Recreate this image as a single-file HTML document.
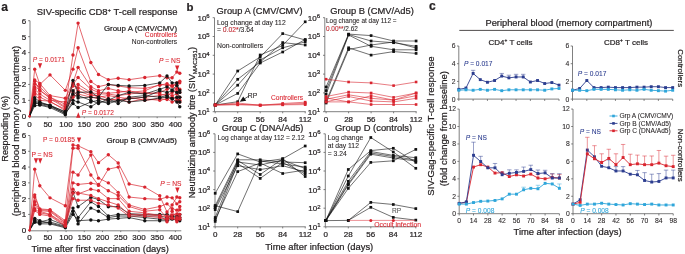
<!DOCTYPE html>
<html><head><meta charset="utf-8"><style>
html,body{margin:0;padding:0;background:#fff;width:685px;height:254px;overflow:hidden}
svg{display:block;font-family:"Liberation Sans", sans-serif;will-change:transform}
text{paint-order:stroke}
</style></head><body>
<svg width="685" height="254" viewBox="0 0 685 254">
<rect width="685" height="254" fill="#fff"/>
<text x="1.20" y="11.30" font-size="12" fill="#231f20" stroke="#231f20" stroke-width="0.22" text-anchor="start" font-weight="bold" >a</text>
<text x="186.40" y="10.80" font-size="11.4" fill="#231f20" stroke="#231f20" stroke-width="0.22" text-anchor="start" font-weight="bold" >b</text>
<text x="429.00" y="10.30" font-size="12" fill="#231f20" stroke="#231f20" stroke-width="0.22" text-anchor="start" font-weight="bold" >c</text>
<line x1="30.00" y1="20.72" x2="30.00" y2="116.30" stroke="#606060" stroke-width="0.8"/>
<line x1="28.10" y1="116.30" x2="30.00" y2="116.30" stroke="#606060" stroke-width="0.8"/>
<text x="26.10" y="119.20" font-size="8" fill="#231f20" stroke="#231f20" stroke-width="0.22" text-anchor="end" font-weight="normal" >0</text>
<line x1="28.10" y1="100.37" x2="30.00" y2="100.37" stroke="#606060" stroke-width="0.8"/>
<text x="26.10" y="103.27" font-size="8" fill="#231f20" stroke="#231f20" stroke-width="0.22" text-anchor="end" font-weight="normal" >1</text>
<line x1="28.10" y1="84.44" x2="30.00" y2="84.44" stroke="#606060" stroke-width="0.8"/>
<text x="26.10" y="87.34" font-size="8" fill="#231f20" stroke="#231f20" stroke-width="0.22" text-anchor="end" font-weight="normal" >2</text>
<line x1="28.10" y1="68.51" x2="30.00" y2="68.51" stroke="#606060" stroke-width="0.8"/>
<text x="26.10" y="71.41" font-size="8" fill="#231f20" stroke="#231f20" stroke-width="0.22" text-anchor="end" font-weight="normal" >3</text>
<line x1="28.10" y1="52.58" x2="30.00" y2="52.58" stroke="#606060" stroke-width="0.8"/>
<text x="26.10" y="55.48" font-size="8" fill="#231f20" stroke="#231f20" stroke-width="0.22" text-anchor="end" font-weight="normal" >4</text>
<line x1="28.10" y1="36.65" x2="30.00" y2="36.65" stroke="#606060" stroke-width="0.8"/>
<text x="26.10" y="39.55" font-size="8" fill="#231f20" stroke="#231f20" stroke-width="0.22" text-anchor="end" font-weight="normal" >5</text>
<line x1="28.10" y1="20.72" x2="30.00" y2="20.72" stroke="#606060" stroke-width="0.8"/>
<text x="26.10" y="23.62" font-size="8" fill="#231f20" stroke="#231f20" stroke-width="0.22" text-anchor="end" font-weight="normal" >6</text>
<line x1="29.60" y1="116.90" x2="181.30" y2="116.90" stroke="#606060" stroke-width="0.8"/>
<line x1="29.60" y1="116.90" x2="29.60" y2="118.20" stroke="#606060" stroke-width="0.8"/>
<text x="29.60" y="126.50" font-size="8" fill="#231f20" stroke="#231f20" stroke-width="0.22" text-anchor="middle" font-weight="normal" >0</text>
<line x1="47.83" y1="116.90" x2="47.83" y2="118.20" stroke="#606060" stroke-width="0.8"/>
<text x="47.83" y="126.50" font-size="8" fill="#231f20" stroke="#231f20" stroke-width="0.22" text-anchor="middle" font-weight="normal" >50</text>
<line x1="66.05" y1="116.90" x2="66.05" y2="118.20" stroke="#606060" stroke-width="0.8"/>
<text x="66.05" y="126.50" font-size="8" fill="#231f20" stroke="#231f20" stroke-width="0.22" text-anchor="middle" font-weight="normal" >100</text>
<line x1="84.28" y1="116.90" x2="84.28" y2="118.20" stroke="#606060" stroke-width="0.8"/>
<text x="84.28" y="126.50" font-size="8" fill="#231f20" stroke="#231f20" stroke-width="0.22" text-anchor="middle" font-weight="normal" >150</text>
<line x1="102.50" y1="116.90" x2="102.50" y2="118.20" stroke="#606060" stroke-width="0.8"/>
<text x="102.50" y="126.50" font-size="8" fill="#231f20" stroke="#231f20" stroke-width="0.22" text-anchor="middle" font-weight="normal" >200</text>
<line x1="120.72" y1="116.90" x2="120.72" y2="118.20" stroke="#606060" stroke-width="0.8"/>
<text x="120.72" y="126.50" font-size="8" fill="#231f20" stroke="#231f20" stroke-width="0.22" text-anchor="middle" font-weight="normal" >250</text>
<line x1="138.95" y1="116.90" x2="138.95" y2="118.20" stroke="#606060" stroke-width="0.8"/>
<text x="138.95" y="126.50" font-size="8" fill="#231f20" stroke="#231f20" stroke-width="0.22" text-anchor="middle" font-weight="normal" >300</text>
<line x1="157.17" y1="116.90" x2="157.17" y2="118.20" stroke="#606060" stroke-width="0.8"/>
<text x="157.17" y="126.50" font-size="8" fill="#231f20" stroke="#231f20" stroke-width="0.22" text-anchor="middle" font-weight="normal" >350</text>
<line x1="175.40" y1="116.90" x2="175.40" y2="118.20" stroke="#606060" stroke-width="0.8"/>
<text x="175.40" y="126.50" font-size="8" fill="#231f20" stroke="#231f20" stroke-width="0.22" text-anchor="middle" font-weight="normal" >400</text>
<line x1="30.00" y1="135.52" x2="30.00" y2="230.20" stroke="#606060" stroke-width="0.8"/>
<line x1="28.10" y1="230.20" x2="30.00" y2="230.20" stroke="#606060" stroke-width="0.8"/>
<text x="26.10" y="233.10" font-size="8" fill="#231f20" stroke="#231f20" stroke-width="0.22" text-anchor="end" font-weight="normal" >0</text>
<line x1="28.10" y1="214.42" x2="30.00" y2="214.42" stroke="#606060" stroke-width="0.8"/>
<text x="26.10" y="217.32" font-size="8" fill="#231f20" stroke="#231f20" stroke-width="0.22" text-anchor="end" font-weight="normal" >1</text>
<line x1="28.10" y1="198.64" x2="30.00" y2="198.64" stroke="#606060" stroke-width="0.8"/>
<text x="26.10" y="201.54" font-size="8" fill="#231f20" stroke="#231f20" stroke-width="0.22" text-anchor="end" font-weight="normal" >2</text>
<line x1="28.10" y1="182.86" x2="30.00" y2="182.86" stroke="#606060" stroke-width="0.8"/>
<text x="26.10" y="185.76" font-size="8" fill="#231f20" stroke="#231f20" stroke-width="0.22" text-anchor="end" font-weight="normal" >3</text>
<line x1="28.10" y1="167.08" x2="30.00" y2="167.08" stroke="#606060" stroke-width="0.8"/>
<text x="26.10" y="169.98" font-size="8" fill="#231f20" stroke="#231f20" stroke-width="0.22" text-anchor="end" font-weight="normal" >4</text>
<line x1="28.10" y1="151.30" x2="30.00" y2="151.30" stroke="#606060" stroke-width="0.8"/>
<text x="26.10" y="154.20" font-size="8" fill="#231f20" stroke="#231f20" stroke-width="0.22" text-anchor="end" font-weight="normal" >5</text>
<line x1="28.10" y1="135.52" x2="30.00" y2="135.52" stroke="#606060" stroke-width="0.8"/>
<text x="26.10" y="138.42" font-size="8" fill="#231f20" stroke="#231f20" stroke-width="0.22" text-anchor="end" font-weight="normal" >6</text>
<line x1="29.60" y1="230.80" x2="181.30" y2="230.80" stroke="#606060" stroke-width="0.8"/>
<line x1="29.60" y1="230.80" x2="29.60" y2="232.10" stroke="#606060" stroke-width="0.8"/>
<text x="29.60" y="240.40" font-size="8" fill="#231f20" stroke="#231f20" stroke-width="0.22" text-anchor="middle" font-weight="normal" >0</text>
<line x1="47.83" y1="230.80" x2="47.83" y2="232.10" stroke="#606060" stroke-width="0.8"/>
<text x="47.83" y="240.40" font-size="8" fill="#231f20" stroke="#231f20" stroke-width="0.22" text-anchor="middle" font-weight="normal" >50</text>
<line x1="66.05" y1="230.80" x2="66.05" y2="232.10" stroke="#606060" stroke-width="0.8"/>
<text x="66.05" y="240.40" font-size="8" fill="#231f20" stroke="#231f20" stroke-width="0.22" text-anchor="middle" font-weight="normal" >100</text>
<line x1="84.28" y1="230.80" x2="84.28" y2="232.10" stroke="#606060" stroke-width="0.8"/>
<text x="84.28" y="240.40" font-size="8" fill="#231f20" stroke="#231f20" stroke-width="0.22" text-anchor="middle" font-weight="normal" >150</text>
<line x1="102.50" y1="230.80" x2="102.50" y2="232.10" stroke="#606060" stroke-width="0.8"/>
<text x="102.50" y="240.40" font-size="8" fill="#231f20" stroke="#231f20" stroke-width="0.22" text-anchor="middle" font-weight="normal" >200</text>
<line x1="120.72" y1="230.80" x2="120.72" y2="232.10" stroke="#606060" stroke-width="0.8"/>
<text x="120.72" y="240.40" font-size="8" fill="#231f20" stroke="#231f20" stroke-width="0.22" text-anchor="middle" font-weight="normal" >250</text>
<line x1="138.95" y1="230.80" x2="138.95" y2="232.10" stroke="#606060" stroke-width="0.8"/>
<text x="138.95" y="240.40" font-size="8" fill="#231f20" stroke="#231f20" stroke-width="0.22" text-anchor="middle" font-weight="normal" >300</text>
<line x1="157.17" y1="230.80" x2="157.17" y2="232.10" stroke="#606060" stroke-width="0.8"/>
<text x="157.17" y="240.40" font-size="8" fill="#231f20" stroke="#231f20" stroke-width="0.22" text-anchor="middle" font-weight="normal" >350</text>
<line x1="175.40" y1="230.80" x2="175.40" y2="232.10" stroke="#606060" stroke-width="0.8"/>
<text x="175.40" y="240.40" font-size="8" fill="#231f20" stroke="#231f20" stroke-width="0.22" text-anchor="middle" font-weight="normal" >400</text>
<text x="36.80" y="15.00" font-size="9.45" fill="#231f20" stroke="#231f20" stroke-width="0.22" text-anchor="start" font-weight="normal" >SIV-specific CD8<tspan dy="-3" font-size="6">+</tspan><tspan dy="3"> T-cell response</tspan></text>
<text x="177.20" y="31.00" font-size="7.9" fill="#231f20" stroke="#231f20" stroke-width="0.22" text-anchor="end" font-weight="normal" >Group A (CMV/CMV)</text>
<text x="177.20" y="37.40" font-size="6.7" fill="#d9252f" stroke="#d9252f" stroke-width="0.08" text-anchor="end" font-weight="normal" >Controllers</text>
<text x="177.20" y="43.70" font-size="6.7" fill="#231f20" stroke="#231f20" stroke-width="0.08" text-anchor="end" font-weight="normal" >Non-controllers</text>
<text x="177.00" y="142.50" font-size="7.9" fill="#231f20" stroke="#231f20" stroke-width="0.22" text-anchor="end" font-weight="normal" >Group B (CMV/Ad5)</text>
<text transform="translate(8.20,128.80) rotate(-90)" font-size="9.2" fill="#231f20" stroke="#231f20" stroke-width="0.22" text-anchor="middle">Responding (%)</text>
<text transform="translate(18.90,131.00) rotate(-90)" font-size="9.55" fill="#231f20" stroke="#231f20" stroke-width="0.22" text-anchor="middle">(peripheral blood memory compartment)</text>
<text x="31.50" y="252.20" font-size="9.35" fill="#231f20" stroke="#231f20" stroke-width="0.22" text-anchor="start" font-weight="normal" >Time after first vaccination (days)</text>
<polyline points="29.60,116.30 34.70,81.25 39.81,90.81 50.01,97.18 65.32,106.74 72.98,54.97 78.08,23.11 90.84,62.46 98.49,74.56 108.33,79.66 118.17,78.23 129.11,79.66 144.78,77.43 159.73,75.68 167.02,77.75 172.12,77.75 176.86,72.01 179.77,73.29" fill="none" stroke="#d9252f" stroke-width="0.7" stroke-opacity="1" stroke-linejoin="round"/>
<circle cx="34.70" cy="81.25" r="1.7" fill="#d9252f"/>
<circle cx="39.81" cy="90.81" r="1.7" fill="#d9252f"/>
<circle cx="50.01" cy="97.18" r="1.7" fill="#d9252f"/>
<circle cx="65.32" cy="106.74" r="1.7" fill="#d9252f"/>
<circle cx="72.98" cy="54.97" r="1.7" fill="#d9252f"/>
<circle cx="78.08" cy="23.11" r="1.7" fill="#d9252f"/>
<circle cx="90.84" cy="62.46" r="1.7" fill="#d9252f"/>
<circle cx="98.49" cy="74.56" r="1.7" fill="#d9252f"/>
<circle cx="108.33" cy="79.66" r="1.7" fill="#d9252f"/>
<circle cx="118.17" cy="78.23" r="1.7" fill="#d9252f"/>
<circle cx="129.11" cy="79.66" r="1.7" fill="#d9252f"/>
<circle cx="144.78" cy="77.43" r="1.7" fill="#d9252f"/>
<circle cx="159.73" cy="75.68" r="1.7" fill="#d9252f"/>
<circle cx="167.02" cy="77.75" r="1.7" fill="#d9252f"/>
<circle cx="172.12" cy="77.75" r="1.7" fill="#d9252f"/>
<circle cx="176.86" cy="72.01" r="1.7" fill="#d9252f"/>
<circle cx="179.77" cy="73.29" r="1.7" fill="#d9252f"/>
<polyline points="29.60,116.30 34.70,69.31 39.81,84.44 50.01,74.88 65.32,90.33 72.98,69.15 78.08,47.80 90.84,81.57 98.49,86.67 108.33,84.44 118.17,86.03 129.11,87.63 144.78,88.42 159.73,85.24 167.02,83.64 172.12,86.03 176.86,82.85 179.77,81.25" fill="none" stroke="#d9252f" stroke-width="0.7" stroke-opacity="1" stroke-linejoin="round"/>
<circle cx="34.70" cy="69.31" r="1.7" fill="#d9252f"/>
<circle cx="39.81" cy="84.44" r="1.7" fill="#d9252f"/>
<circle cx="50.01" cy="74.88" r="1.7" fill="#d9252f"/>
<circle cx="65.32" cy="90.33" r="1.7" fill="#d9252f"/>
<circle cx="72.98" cy="69.15" r="1.7" fill="#d9252f"/>
<circle cx="78.08" cy="47.80" r="1.7" fill="#d9252f"/>
<circle cx="90.84" cy="81.57" r="1.7" fill="#d9252f"/>
<circle cx="98.49" cy="86.67" r="1.7" fill="#d9252f"/>
<circle cx="108.33" cy="84.44" r="1.7" fill="#d9252f"/>
<circle cx="118.17" cy="86.03" r="1.7" fill="#d9252f"/>
<circle cx="129.11" cy="87.63" r="1.7" fill="#d9252f"/>
<circle cx="144.78" cy="88.42" r="1.7" fill="#d9252f"/>
<circle cx="159.73" cy="85.24" r="1.7" fill="#d9252f"/>
<circle cx="167.02" cy="83.64" r="1.7" fill="#d9252f"/>
<circle cx="172.12" cy="86.03" r="1.7" fill="#d9252f"/>
<circle cx="176.86" cy="82.85" r="1.7" fill="#d9252f"/>
<circle cx="179.77" cy="81.25" r="1.7" fill="#d9252f"/>
<polyline points="29.60,116.30 34.70,79.98 39.81,83.48 50.01,95.59 65.32,98.30 72.98,82.85 78.08,67.39 90.84,86.67 98.49,90.81 108.33,88.42 118.17,90.81 129.11,92.41 144.78,90.81 159.73,84.44 167.02,85.24 172.12,85.56 176.86,85.08 179.77,82.85" fill="none" stroke="#d9252f" stroke-width="0.7" stroke-opacity="1" stroke-linejoin="round"/>
<circle cx="34.70" cy="79.98" r="1.7" fill="#d9252f"/>
<circle cx="39.81" cy="83.48" r="1.7" fill="#d9252f"/>
<circle cx="50.01" cy="95.59" r="1.7" fill="#d9252f"/>
<circle cx="65.32" cy="98.30" r="1.7" fill="#d9252f"/>
<circle cx="72.98" cy="82.85" r="1.7" fill="#d9252f"/>
<circle cx="78.08" cy="67.39" r="1.7" fill="#d9252f"/>
<circle cx="90.84" cy="86.67" r="1.7" fill="#d9252f"/>
<circle cx="98.49" cy="90.81" r="1.7" fill="#d9252f"/>
<circle cx="108.33" cy="88.42" r="1.7" fill="#d9252f"/>
<circle cx="118.17" cy="90.81" r="1.7" fill="#d9252f"/>
<circle cx="129.11" cy="92.41" r="1.7" fill="#d9252f"/>
<circle cx="144.78" cy="90.81" r="1.7" fill="#d9252f"/>
<circle cx="159.73" cy="84.44" r="1.7" fill="#d9252f"/>
<circle cx="167.02" cy="85.24" r="1.7" fill="#d9252f"/>
<circle cx="172.12" cy="85.56" r="1.7" fill="#d9252f"/>
<circle cx="176.86" cy="85.08" r="1.7" fill="#d9252f"/>
<circle cx="179.77" cy="82.85" r="1.7" fill="#d9252f"/>
<polyline points="29.60,116.30 34.70,83.96 39.81,86.83 50.01,97.18 65.32,104.35 72.98,84.44 78.08,77.43 90.84,89.22 98.49,92.41 108.33,93.20 118.17,92.41 129.11,90.81 144.78,94.00 159.73,92.41 167.02,89.22 172.12,86.03 176.86,91.61 179.77,89.22" fill="none" stroke="#d9252f" stroke-width="0.7" stroke-opacity="1" stroke-linejoin="round"/>
<circle cx="34.70" cy="83.96" r="1.7" fill="#d9252f"/>
<circle cx="39.81" cy="86.83" r="1.7" fill="#d9252f"/>
<circle cx="50.01" cy="97.18" r="1.7" fill="#d9252f"/>
<circle cx="65.32" cy="104.35" r="1.7" fill="#d9252f"/>
<circle cx="72.98" cy="84.44" r="1.7" fill="#d9252f"/>
<circle cx="78.08" cy="77.43" r="1.7" fill="#d9252f"/>
<circle cx="90.84" cy="89.22" r="1.7" fill="#d9252f"/>
<circle cx="98.49" cy="92.41" r="1.7" fill="#d9252f"/>
<circle cx="108.33" cy="93.20" r="1.7" fill="#d9252f"/>
<circle cx="118.17" cy="92.41" r="1.7" fill="#d9252f"/>
<circle cx="129.11" cy="90.81" r="1.7" fill="#d9252f"/>
<circle cx="144.78" cy="94.00" r="1.7" fill="#d9252f"/>
<circle cx="159.73" cy="92.41" r="1.7" fill="#d9252f"/>
<circle cx="167.02" cy="89.22" r="1.7" fill="#d9252f"/>
<circle cx="172.12" cy="86.03" r="1.7" fill="#d9252f"/>
<circle cx="176.86" cy="91.61" r="1.7" fill="#d9252f"/>
<circle cx="179.77" cy="89.22" r="1.7" fill="#d9252f"/>
<polyline points="29.60,116.30 34.70,86.99 39.81,89.70 50.01,98.78 65.32,107.70 72.98,91.93 78.08,84.44 90.84,92.41 98.49,94.00 108.33,94.00 118.17,95.59 129.11,94.00 144.78,92.41 159.73,94.00 167.02,95.59 172.12,92.41 176.86,88.42 179.77,92.41" fill="none" stroke="#d9252f" stroke-width="0.7" stroke-opacity="1" stroke-linejoin="round"/>
<circle cx="34.70" cy="86.99" r="1.7" fill="#d9252f"/>
<circle cx="39.81" cy="89.70" r="1.7" fill="#d9252f"/>
<circle cx="50.01" cy="98.78" r="1.7" fill="#d9252f"/>
<circle cx="65.32" cy="107.70" r="1.7" fill="#d9252f"/>
<circle cx="72.98" cy="91.93" r="1.7" fill="#d9252f"/>
<circle cx="78.08" cy="84.44" r="1.7" fill="#d9252f"/>
<circle cx="90.84" cy="92.41" r="1.7" fill="#d9252f"/>
<circle cx="98.49" cy="94.00" r="1.7" fill="#d9252f"/>
<circle cx="108.33" cy="94.00" r="1.7" fill="#d9252f"/>
<circle cx="118.17" cy="95.59" r="1.7" fill="#d9252f"/>
<circle cx="129.11" cy="94.00" r="1.7" fill="#d9252f"/>
<circle cx="144.78" cy="92.41" r="1.7" fill="#d9252f"/>
<circle cx="159.73" cy="94.00" r="1.7" fill="#d9252f"/>
<circle cx="167.02" cy="95.59" r="1.7" fill="#d9252f"/>
<circle cx="172.12" cy="92.41" r="1.7" fill="#d9252f"/>
<circle cx="176.86" cy="88.42" r="1.7" fill="#d9252f"/>
<circle cx="179.77" cy="92.41" r="1.7" fill="#d9252f"/>
<polyline points="29.60,116.30 34.70,89.22 39.81,94.00 50.01,100.37 65.32,101.96 72.98,86.03 78.08,87.63 90.84,94.00 98.49,97.18 108.33,95.59 118.17,97.18 129.11,98.78 144.78,97.18 159.73,95.59 167.02,93.68 172.12,95.59 176.86,94.00 179.77,97.18" fill="none" stroke="#d9252f" stroke-width="0.7" stroke-opacity="1" stroke-linejoin="round"/>
<circle cx="34.70" cy="89.22" r="1.7" fill="#d9252f"/>
<circle cx="39.81" cy="94.00" r="1.7" fill="#d9252f"/>
<circle cx="50.01" cy="100.37" r="1.7" fill="#d9252f"/>
<circle cx="65.32" cy="101.96" r="1.7" fill="#d9252f"/>
<circle cx="72.98" cy="86.03" r="1.7" fill="#d9252f"/>
<circle cx="78.08" cy="87.63" r="1.7" fill="#d9252f"/>
<circle cx="90.84" cy="94.00" r="1.7" fill="#d9252f"/>
<circle cx="98.49" cy="97.18" r="1.7" fill="#d9252f"/>
<circle cx="108.33" cy="95.59" r="1.7" fill="#d9252f"/>
<circle cx="118.17" cy="97.18" r="1.7" fill="#d9252f"/>
<circle cx="129.11" cy="98.78" r="1.7" fill="#d9252f"/>
<circle cx="144.78" cy="97.18" r="1.7" fill="#d9252f"/>
<circle cx="159.73" cy="95.59" r="1.7" fill="#d9252f"/>
<circle cx="167.02" cy="93.68" r="1.7" fill="#d9252f"/>
<circle cx="172.12" cy="95.59" r="1.7" fill="#d9252f"/>
<circle cx="176.86" cy="94.00" r="1.7" fill="#d9252f"/>
<circle cx="179.77" cy="97.18" r="1.7" fill="#d9252f"/>
<polyline points="29.60,116.30 34.70,91.93 39.81,97.18 50.01,101.96 65.32,109.13 72.98,95.59 78.08,90.81 90.84,95.59 98.49,95.59 108.33,98.78 118.17,100.37 129.11,97.18 144.78,100.37 159.73,98.78 167.02,99.57 172.12,97.18 176.86,98.78 179.77,100.37" fill="none" stroke="#d9252f" stroke-width="0.7" stroke-opacity="1" stroke-linejoin="round"/>
<circle cx="34.70" cy="91.93" r="1.7" fill="#d9252f"/>
<circle cx="39.81" cy="97.18" r="1.7" fill="#d9252f"/>
<circle cx="50.01" cy="101.96" r="1.7" fill="#d9252f"/>
<circle cx="65.32" cy="109.13" r="1.7" fill="#d9252f"/>
<circle cx="72.98" cy="95.59" r="1.7" fill="#d9252f"/>
<circle cx="78.08" cy="90.81" r="1.7" fill="#d9252f"/>
<circle cx="90.84" cy="95.59" r="1.7" fill="#d9252f"/>
<circle cx="98.49" cy="95.59" r="1.7" fill="#d9252f"/>
<circle cx="108.33" cy="98.78" r="1.7" fill="#d9252f"/>
<circle cx="118.17" cy="100.37" r="1.7" fill="#d9252f"/>
<circle cx="129.11" cy="97.18" r="1.7" fill="#d9252f"/>
<circle cx="144.78" cy="100.37" r="1.7" fill="#d9252f"/>
<circle cx="159.73" cy="98.78" r="1.7" fill="#d9252f"/>
<circle cx="167.02" cy="99.57" r="1.7" fill="#d9252f"/>
<circle cx="172.12" cy="97.18" r="1.7" fill="#d9252f"/>
<circle cx="176.86" cy="98.78" r="1.7" fill="#d9252f"/>
<circle cx="179.77" cy="100.37" r="1.7" fill="#d9252f"/>
<polyline points="29.60,116.30 34.70,94.16 39.81,100.37 50.01,101.17 65.32,110.72 72.98,97.18 78.08,94.00 90.84,97.18 98.49,98.78 108.33,100.37 118.17,98.78 129.11,101.96 144.78,98.78 159.73,100.37 167.02,98.78 172.12,101.96 176.86,100.37 179.77,101.96" fill="none" stroke="#d9252f" stroke-width="0.7" stroke-opacity="1" stroke-linejoin="round"/>
<circle cx="34.70" cy="94.16" r="1.7" fill="#d9252f"/>
<circle cx="39.81" cy="100.37" r="1.7" fill="#d9252f"/>
<circle cx="50.01" cy="101.17" r="1.7" fill="#d9252f"/>
<circle cx="65.32" cy="110.72" r="1.7" fill="#d9252f"/>
<circle cx="72.98" cy="97.18" r="1.7" fill="#d9252f"/>
<circle cx="78.08" cy="94.00" r="1.7" fill="#d9252f"/>
<circle cx="90.84" cy="97.18" r="1.7" fill="#d9252f"/>
<circle cx="98.49" cy="98.78" r="1.7" fill="#d9252f"/>
<circle cx="108.33" cy="100.37" r="1.7" fill="#d9252f"/>
<circle cx="118.17" cy="98.78" r="1.7" fill="#d9252f"/>
<circle cx="129.11" cy="101.96" r="1.7" fill="#d9252f"/>
<circle cx="144.78" cy="98.78" r="1.7" fill="#d9252f"/>
<circle cx="159.73" cy="100.37" r="1.7" fill="#d9252f"/>
<circle cx="167.02" cy="98.78" r="1.7" fill="#d9252f"/>
<circle cx="172.12" cy="101.96" r="1.7" fill="#d9252f"/>
<circle cx="176.86" cy="100.37" r="1.7" fill="#d9252f"/>
<circle cx="179.77" cy="101.96" r="1.7" fill="#d9252f"/>
<polyline points="29.60,116.30 34.70,97.66 39.81,101.96 50.01,105.63 65.32,111.52 72.98,80.46 78.08,92.41 90.84,91.93 98.49,97.18 108.33,84.44 118.17,85.40 129.11,86.03 144.78,85.40 159.73,82.85 167.02,76.00 172.12,82.85 176.86,82.85 179.77,92.41" fill="none" stroke="#111" stroke-width="0.7" stroke-opacity="1" stroke-linejoin="round"/>
<circle cx="34.70" cy="97.66" r="1.7" fill="#111"/>
<circle cx="39.81" cy="101.96" r="1.7" fill="#111"/>
<circle cx="50.01" cy="105.63" r="1.7" fill="#111"/>
<circle cx="65.32" cy="111.52" r="1.7" fill="#111"/>
<circle cx="72.98" cy="80.46" r="1.7" fill="#111"/>
<circle cx="78.08" cy="92.41" r="1.7" fill="#111"/>
<circle cx="90.84" cy="91.93" r="1.7" fill="#111"/>
<circle cx="98.49" cy="97.18" r="1.7" fill="#111"/>
<circle cx="108.33" cy="84.44" r="1.7" fill="#111"/>
<circle cx="118.17" cy="85.40" r="1.7" fill="#111"/>
<circle cx="129.11" cy="86.03" r="1.7" fill="#111"/>
<circle cx="144.78" cy="85.40" r="1.7" fill="#111"/>
<circle cx="159.73" cy="82.85" r="1.7" fill="#111"/>
<circle cx="167.02" cy="76.00" r="1.7" fill="#111"/>
<circle cx="172.12" cy="82.85" r="1.7" fill="#111"/>
<circle cx="176.86" cy="82.85" r="1.7" fill="#111"/>
<circle cx="179.77" cy="92.41" r="1.7" fill="#111"/>
<polyline points="29.60,116.30 34.70,99.89 39.81,103.56 50.01,105.63 65.32,113.91 72.98,94.00 78.08,97.98 90.84,97.18 98.49,97.98 108.33,100.37 118.17,95.59 129.11,92.41 144.78,94.00 159.73,89.22 167.02,86.83 172.12,90.02 176.86,85.40 179.77,90.81" fill="none" stroke="#111" stroke-width="0.7" stroke-opacity="1" stroke-linejoin="round"/>
<circle cx="34.70" cy="99.89" r="1.7" fill="#111"/>
<circle cx="39.81" cy="103.56" r="1.7" fill="#111"/>
<circle cx="50.01" cy="105.63" r="1.7" fill="#111"/>
<circle cx="65.32" cy="113.91" r="1.7" fill="#111"/>
<circle cx="72.98" cy="94.00" r="1.7" fill="#111"/>
<circle cx="78.08" cy="97.98" r="1.7" fill="#111"/>
<circle cx="90.84" cy="97.18" r="1.7" fill="#111"/>
<circle cx="98.49" cy="97.98" r="1.7" fill="#111"/>
<circle cx="108.33" cy="100.37" r="1.7" fill="#111"/>
<circle cx="118.17" cy="95.59" r="1.7" fill="#111"/>
<circle cx="129.11" cy="92.41" r="1.7" fill="#111"/>
<circle cx="144.78" cy="94.00" r="1.7" fill="#111"/>
<circle cx="159.73" cy="89.22" r="1.7" fill="#111"/>
<circle cx="167.02" cy="86.83" r="1.7" fill="#111"/>
<circle cx="172.12" cy="90.02" r="1.7" fill="#111"/>
<circle cx="176.86" cy="85.40" r="1.7" fill="#111"/>
<circle cx="179.77" cy="90.81" r="1.7" fill="#111"/>
<polyline points="29.60,116.30 34.70,102.12 39.81,104.35 50.01,106.74 65.32,113.11 72.98,103.56 78.08,107.54 90.84,101.96 98.49,100.37 108.33,103.56 118.17,100.69 129.11,98.78 144.78,97.18 159.73,90.81 167.02,92.41 172.12,90.81 176.86,92.41 179.77,97.18" fill="none" stroke="#111" stroke-width="0.7" stroke-opacity="1" stroke-linejoin="round"/>
<circle cx="34.70" cy="102.12" r="1.7" fill="#111"/>
<circle cx="39.81" cy="104.35" r="1.7" fill="#111"/>
<circle cx="50.01" cy="106.74" r="1.7" fill="#111"/>
<circle cx="65.32" cy="113.11" r="1.7" fill="#111"/>
<circle cx="72.98" cy="103.56" r="1.7" fill="#111"/>
<circle cx="78.08" cy="107.54" r="1.7" fill="#111"/>
<circle cx="90.84" cy="101.96" r="1.7" fill="#111"/>
<circle cx="98.49" cy="100.37" r="1.7" fill="#111"/>
<circle cx="108.33" cy="103.56" r="1.7" fill="#111"/>
<circle cx="118.17" cy="100.69" r="1.7" fill="#111"/>
<circle cx="129.11" cy="98.78" r="1.7" fill="#111"/>
<circle cx="144.78" cy="97.18" r="1.7" fill="#111"/>
<circle cx="159.73" cy="90.81" r="1.7" fill="#111"/>
<circle cx="167.02" cy="92.41" r="1.7" fill="#111"/>
<circle cx="172.12" cy="90.81" r="1.7" fill="#111"/>
<circle cx="176.86" cy="92.41" r="1.7" fill="#111"/>
<circle cx="179.77" cy="97.18" r="1.7" fill="#111"/>
<polyline points="29.60,116.30 34.70,105.63 39.81,105.15 50.01,107.54 65.32,114.71 72.98,100.37 78.08,101.96 90.84,106.74 98.49,101.96 108.33,101.96 118.17,100.37 129.11,101.96 144.78,100.37 159.73,97.98 167.02,97.18 172.12,98.78 176.86,97.18 179.77,101.96" fill="none" stroke="#111" stroke-width="0.7" stroke-opacity="1" stroke-linejoin="round"/>
<circle cx="34.70" cy="105.63" r="1.7" fill="#111"/>
<circle cx="39.81" cy="105.15" r="1.7" fill="#111"/>
<circle cx="50.01" cy="107.54" r="1.7" fill="#111"/>
<circle cx="65.32" cy="114.71" r="1.7" fill="#111"/>
<circle cx="72.98" cy="100.37" r="1.7" fill="#111"/>
<circle cx="78.08" cy="101.96" r="1.7" fill="#111"/>
<circle cx="90.84" cy="106.74" r="1.7" fill="#111"/>
<circle cx="98.49" cy="101.96" r="1.7" fill="#111"/>
<circle cx="108.33" cy="101.96" r="1.7" fill="#111"/>
<circle cx="118.17" cy="100.37" r="1.7" fill="#111"/>
<circle cx="129.11" cy="101.96" r="1.7" fill="#111"/>
<circle cx="144.78" cy="100.37" r="1.7" fill="#111"/>
<circle cx="159.73" cy="97.98" r="1.7" fill="#111"/>
<circle cx="167.02" cy="97.18" r="1.7" fill="#111"/>
<circle cx="172.12" cy="98.78" r="1.7" fill="#111"/>
<circle cx="176.86" cy="97.18" r="1.7" fill="#111"/>
<circle cx="179.77" cy="101.96" r="1.7" fill="#111"/>
<polyline points="29.60,116.30 34.70,103.56 39.81,102.76 50.01,105.15 65.32,112.32 72.98,90.81 78.08,95.59 90.84,100.37 98.49,103.56 108.33,98.78 118.17,103.56 129.11,97.18 144.78,95.59 159.73,97.18 167.02,95.59 172.12,98.78 176.86,101.96 179.77,106.74" fill="none" stroke="#111" stroke-width="0.7" stroke-opacity="1" stroke-linejoin="round"/>
<circle cx="34.70" cy="103.56" r="1.7" fill="#111"/>
<circle cx="39.81" cy="102.76" r="1.7" fill="#111"/>
<circle cx="50.01" cy="105.15" r="1.7" fill="#111"/>
<circle cx="65.32" cy="112.32" r="1.7" fill="#111"/>
<circle cx="72.98" cy="90.81" r="1.7" fill="#111"/>
<circle cx="78.08" cy="95.59" r="1.7" fill="#111"/>
<circle cx="90.84" cy="100.37" r="1.7" fill="#111"/>
<circle cx="98.49" cy="103.56" r="1.7" fill="#111"/>
<circle cx="108.33" cy="98.78" r="1.7" fill="#111"/>
<circle cx="118.17" cy="103.56" r="1.7" fill="#111"/>
<circle cx="129.11" cy="97.18" r="1.7" fill="#111"/>
<circle cx="144.78" cy="95.59" r="1.7" fill="#111"/>
<circle cx="159.73" cy="97.18" r="1.7" fill="#111"/>
<circle cx="167.02" cy="95.59" r="1.7" fill="#111"/>
<circle cx="172.12" cy="98.78" r="1.7" fill="#111"/>
<circle cx="176.86" cy="101.96" r="1.7" fill="#111"/>
<circle cx="179.77" cy="106.74" r="1.7" fill="#111"/>
<polyline points="29.60,230.20 34.70,220.10 39.81,221.99 50.01,219.47 65.32,225.47 72.98,192.33 78.08,206.69 90.84,197.38 98.49,199.43 108.33,206.69 118.17,206.53 129.11,213.63 144.78,214.42 159.73,214.42 167.02,214.42 172.12,216.00 176.86,216.00 179.77,217.58" fill="none" stroke="#111" stroke-width="0.7" stroke-opacity="1" stroke-linejoin="round"/>
<circle cx="34.70" cy="220.10" r="1.7" fill="#111"/>
<circle cx="39.81" cy="221.99" r="1.7" fill="#111"/>
<circle cx="50.01" cy="219.47" r="1.7" fill="#111"/>
<circle cx="65.32" cy="225.47" r="1.7" fill="#111"/>
<circle cx="72.98" cy="192.33" r="1.7" fill="#111"/>
<circle cx="78.08" cy="206.69" r="1.7" fill="#111"/>
<circle cx="90.84" cy="197.38" r="1.7" fill="#111"/>
<circle cx="98.49" cy="199.43" r="1.7" fill="#111"/>
<circle cx="108.33" cy="206.69" r="1.7" fill="#111"/>
<circle cx="118.17" cy="206.53" r="1.7" fill="#111"/>
<circle cx="129.11" cy="213.63" r="1.7" fill="#111"/>
<circle cx="144.78" cy="214.42" r="1.7" fill="#111"/>
<circle cx="159.73" cy="214.42" r="1.7" fill="#111"/>
<circle cx="167.02" cy="214.42" r="1.7" fill="#111"/>
<circle cx="172.12" cy="216.00" r="1.7" fill="#111"/>
<circle cx="176.86" cy="216.00" r="1.7" fill="#111"/>
<circle cx="179.77" cy="217.58" r="1.7" fill="#111"/>
<polyline points="29.60,230.20 34.70,221.52 39.81,223.10 50.01,221.99 65.32,226.25 72.98,208.11 78.08,217.58 90.84,201.80 98.49,206.53 108.33,216.00 118.17,214.42 129.11,214.42 144.78,216.00 159.73,216.00 167.02,217.58 172.12,216.00 176.86,217.58 179.77,214.42" fill="none" stroke="#111" stroke-width="0.7" stroke-opacity="1" stroke-linejoin="round"/>
<circle cx="34.70" cy="221.52" r="1.7" fill="#111"/>
<circle cx="39.81" cy="223.10" r="1.7" fill="#111"/>
<circle cx="50.01" cy="221.99" r="1.7" fill="#111"/>
<circle cx="65.32" cy="226.25" r="1.7" fill="#111"/>
<circle cx="72.98" cy="208.11" r="1.7" fill="#111"/>
<circle cx="78.08" cy="217.58" r="1.7" fill="#111"/>
<circle cx="90.84" cy="201.80" r="1.7" fill="#111"/>
<circle cx="98.49" cy="206.53" r="1.7" fill="#111"/>
<circle cx="108.33" cy="216.00" r="1.7" fill="#111"/>
<circle cx="118.17" cy="214.42" r="1.7" fill="#111"/>
<circle cx="129.11" cy="214.42" r="1.7" fill="#111"/>
<circle cx="144.78" cy="216.00" r="1.7" fill="#111"/>
<circle cx="159.73" cy="216.00" r="1.7" fill="#111"/>
<circle cx="167.02" cy="217.58" r="1.7" fill="#111"/>
<circle cx="172.12" cy="216.00" r="1.7" fill="#111"/>
<circle cx="176.86" cy="217.58" r="1.7" fill="#111"/>
<circle cx="179.77" cy="214.42" r="1.7" fill="#111"/>
<polyline points="29.60,230.20 34.70,218.36 39.81,220.73 50.01,223.10 65.32,227.04 72.98,211.26 78.08,223.89 90.84,208.11 98.49,211.26 108.33,217.58 118.17,216.00 129.11,216.00 144.78,217.58 159.73,219.15 167.02,219.15 172.12,217.58 176.86,218.36 179.77,219.15" fill="none" stroke="#111" stroke-width="0.7" stroke-opacity="1" stroke-linejoin="round"/>
<circle cx="34.70" cy="218.36" r="1.7" fill="#111"/>
<circle cx="39.81" cy="220.73" r="1.7" fill="#111"/>
<circle cx="50.01" cy="223.10" r="1.7" fill="#111"/>
<circle cx="65.32" cy="227.04" r="1.7" fill="#111"/>
<circle cx="72.98" cy="211.26" r="1.7" fill="#111"/>
<circle cx="78.08" cy="223.89" r="1.7" fill="#111"/>
<circle cx="90.84" cy="208.11" r="1.7" fill="#111"/>
<circle cx="98.49" cy="211.26" r="1.7" fill="#111"/>
<circle cx="108.33" cy="217.58" r="1.7" fill="#111"/>
<circle cx="118.17" cy="216.00" r="1.7" fill="#111"/>
<circle cx="129.11" cy="216.00" r="1.7" fill="#111"/>
<circle cx="144.78" cy="217.58" r="1.7" fill="#111"/>
<circle cx="159.73" cy="219.15" r="1.7" fill="#111"/>
<circle cx="167.02" cy="219.15" r="1.7" fill="#111"/>
<circle cx="172.12" cy="217.58" r="1.7" fill="#111"/>
<circle cx="176.86" cy="218.36" r="1.7" fill="#111"/>
<circle cx="179.77" cy="219.15" r="1.7" fill="#111"/>
<polyline points="29.60,230.20 34.70,222.31 39.81,223.89 50.01,223.89 65.32,227.83 72.98,214.42 78.08,220.73 90.84,219.94 98.49,220.73 108.33,219.15 118.17,218.36 129.11,217.58 144.78,220.73 159.73,220.73 167.02,220.73 172.12,219.15 176.86,219.94 179.77,220.73" fill="none" stroke="#111" stroke-width="0.7" stroke-opacity="1" stroke-linejoin="round"/>
<circle cx="34.70" cy="222.31" r="1.7" fill="#111"/>
<circle cx="39.81" cy="223.89" r="1.7" fill="#111"/>
<circle cx="50.01" cy="223.89" r="1.7" fill="#111"/>
<circle cx="65.32" cy="227.83" r="1.7" fill="#111"/>
<circle cx="72.98" cy="214.42" r="1.7" fill="#111"/>
<circle cx="78.08" cy="220.73" r="1.7" fill="#111"/>
<circle cx="90.84" cy="219.94" r="1.7" fill="#111"/>
<circle cx="98.49" cy="220.73" r="1.7" fill="#111"/>
<circle cx="108.33" cy="219.15" r="1.7" fill="#111"/>
<circle cx="118.17" cy="218.36" r="1.7" fill="#111"/>
<circle cx="129.11" cy="217.58" r="1.7" fill="#111"/>
<circle cx="144.78" cy="220.73" r="1.7" fill="#111"/>
<circle cx="159.73" cy="220.73" r="1.7" fill="#111"/>
<circle cx="167.02" cy="220.73" r="1.7" fill="#111"/>
<circle cx="172.12" cy="219.15" r="1.7" fill="#111"/>
<circle cx="176.86" cy="219.94" r="1.7" fill="#111"/>
<circle cx="179.77" cy="220.73" r="1.7" fill="#111"/>
<polyline points="29.60,230.20 34.70,169.13 39.81,185.70 50.01,197.85 65.32,205.74 72.98,144.99 78.08,145.78 90.84,151.77 98.49,162.66 108.33,154.77 118.17,162.98 129.11,183.96 144.78,187.12 159.73,195.80 167.02,212.05 172.12,204.95 176.86,197.06 179.77,197.69" fill="none" stroke="#d9252f" stroke-width="0.7" stroke-opacity="1" stroke-linejoin="round"/>
<circle cx="34.70" cy="169.13" r="1.7" fill="#d9252f"/>
<circle cx="39.81" cy="185.70" r="1.7" fill="#d9252f"/>
<circle cx="50.01" cy="197.85" r="1.7" fill="#d9252f"/>
<circle cx="65.32" cy="205.74" r="1.7" fill="#d9252f"/>
<circle cx="72.98" cy="144.99" r="1.7" fill="#d9252f"/>
<circle cx="78.08" cy="145.78" r="1.7" fill="#d9252f"/>
<circle cx="90.84" cy="151.77" r="1.7" fill="#d9252f"/>
<circle cx="98.49" cy="162.66" r="1.7" fill="#d9252f"/>
<circle cx="108.33" cy="154.77" r="1.7" fill="#d9252f"/>
<circle cx="118.17" cy="162.98" r="1.7" fill="#d9252f"/>
<circle cx="129.11" cy="183.96" r="1.7" fill="#d9252f"/>
<circle cx="144.78" cy="187.12" r="1.7" fill="#d9252f"/>
<circle cx="159.73" cy="195.80" r="1.7" fill="#d9252f"/>
<circle cx="167.02" cy="212.05" r="1.7" fill="#d9252f"/>
<circle cx="172.12" cy="204.95" r="1.7" fill="#d9252f"/>
<circle cx="176.86" cy="197.06" r="1.7" fill="#d9252f"/>
<circle cx="179.77" cy="197.69" r="1.7" fill="#d9252f"/>
<polyline points="29.60,230.20 34.70,194.85 39.81,208.90 50.01,209.69 65.32,220.73 72.98,148.14 78.08,148.14 90.84,174.97 98.49,185.38 108.33,169.13 118.17,167.08 129.11,197.06 144.78,198.64 159.73,199.27 167.02,197.06 172.12,197.85 176.86,203.85 179.77,201.80" fill="none" stroke="#d9252f" stroke-width="0.7" stroke-opacity="1" stroke-linejoin="round"/>
<circle cx="34.70" cy="194.85" r="1.7" fill="#d9252f"/>
<circle cx="39.81" cy="208.90" r="1.7" fill="#d9252f"/>
<circle cx="50.01" cy="209.69" r="1.7" fill="#d9252f"/>
<circle cx="65.32" cy="220.73" r="1.7" fill="#d9252f"/>
<circle cx="72.98" cy="148.14" r="1.7" fill="#d9252f"/>
<circle cx="78.08" cy="148.14" r="1.7" fill="#d9252f"/>
<circle cx="90.84" cy="174.97" r="1.7" fill="#d9252f"/>
<circle cx="98.49" cy="185.38" r="1.7" fill="#d9252f"/>
<circle cx="108.33" cy="169.13" r="1.7" fill="#d9252f"/>
<circle cx="118.17" cy="167.08" r="1.7" fill="#d9252f"/>
<circle cx="129.11" cy="197.06" r="1.7" fill="#d9252f"/>
<circle cx="144.78" cy="198.64" r="1.7" fill="#d9252f"/>
<circle cx="159.73" cy="199.27" r="1.7" fill="#d9252f"/>
<circle cx="167.02" cy="197.06" r="1.7" fill="#d9252f"/>
<circle cx="172.12" cy="197.85" r="1.7" fill="#d9252f"/>
<circle cx="176.86" cy="203.85" r="1.7" fill="#d9252f"/>
<circle cx="179.77" cy="201.80" r="1.7" fill="#d9252f"/>
<polyline points="29.60,230.20 34.70,197.06 39.81,209.69 50.01,210.47 65.32,222.31 72.98,172.13 78.08,174.97 90.84,155.09 98.49,178.13 108.33,182.86 118.17,192.33 129.11,204.95 144.78,209.53 159.73,206.53 167.02,203.85 172.12,208.58 176.86,210.16 179.77,206.53" fill="none" stroke="#d9252f" stroke-width="0.7" stroke-opacity="1" stroke-linejoin="round"/>
<circle cx="34.70" cy="197.06" r="1.7" fill="#d9252f"/>
<circle cx="39.81" cy="209.69" r="1.7" fill="#d9252f"/>
<circle cx="50.01" cy="210.47" r="1.7" fill="#d9252f"/>
<circle cx="65.32" cy="222.31" r="1.7" fill="#d9252f"/>
<circle cx="72.98" cy="172.13" r="1.7" fill="#d9252f"/>
<circle cx="78.08" cy="174.97" r="1.7" fill="#d9252f"/>
<circle cx="90.84" cy="155.09" r="1.7" fill="#d9252f"/>
<circle cx="98.49" cy="178.13" r="1.7" fill="#d9252f"/>
<circle cx="108.33" cy="182.86" r="1.7" fill="#d9252f"/>
<circle cx="118.17" cy="192.33" r="1.7" fill="#d9252f"/>
<circle cx="129.11" cy="204.95" r="1.7" fill="#d9252f"/>
<circle cx="144.78" cy="209.53" r="1.7" fill="#d9252f"/>
<circle cx="159.73" cy="206.53" r="1.7" fill="#d9252f"/>
<circle cx="167.02" cy="203.85" r="1.7" fill="#d9252f"/>
<circle cx="172.12" cy="208.58" r="1.7" fill="#d9252f"/>
<circle cx="176.86" cy="210.16" r="1.7" fill="#d9252f"/>
<circle cx="179.77" cy="206.53" r="1.7" fill="#d9252f"/>
<polyline points="29.60,230.20 34.70,201.80 39.81,210.47 50.01,211.58 65.32,223.10 72.98,182.86 78.08,184.44 90.84,183.18 98.49,184.44 108.33,190.75 118.17,195.48 129.11,206.53 144.78,211.26 159.73,209.69 167.02,218.21 172.12,214.89 176.86,213.95 179.77,209.69" fill="none" stroke="#d9252f" stroke-width="0.7" stroke-opacity="1" stroke-linejoin="round"/>
<circle cx="34.70" cy="201.80" r="1.7" fill="#d9252f"/>
<circle cx="39.81" cy="210.47" r="1.7" fill="#d9252f"/>
<circle cx="50.01" cy="211.58" r="1.7" fill="#d9252f"/>
<circle cx="65.32" cy="223.10" r="1.7" fill="#d9252f"/>
<circle cx="72.98" cy="182.86" r="1.7" fill="#d9252f"/>
<circle cx="78.08" cy="184.44" r="1.7" fill="#d9252f"/>
<circle cx="90.84" cy="183.18" r="1.7" fill="#d9252f"/>
<circle cx="98.49" cy="184.44" r="1.7" fill="#d9252f"/>
<circle cx="108.33" cy="190.75" r="1.7" fill="#d9252f"/>
<circle cx="118.17" cy="195.48" r="1.7" fill="#d9252f"/>
<circle cx="129.11" cy="206.53" r="1.7" fill="#d9252f"/>
<circle cx="144.78" cy="211.26" r="1.7" fill="#d9252f"/>
<circle cx="159.73" cy="209.69" r="1.7" fill="#d9252f"/>
<circle cx="167.02" cy="218.21" r="1.7" fill="#d9252f"/>
<circle cx="172.12" cy="214.89" r="1.7" fill="#d9252f"/>
<circle cx="176.86" cy="213.95" r="1.7" fill="#d9252f"/>
<circle cx="179.77" cy="209.69" r="1.7" fill="#d9252f"/>
<polyline points="29.60,230.20 34.70,204.64 39.81,211.26 50.01,214.42 65.32,223.89 72.98,189.17 78.08,193.91 90.84,189.17 98.49,190.75 108.33,198.64 118.17,198.64 129.11,211.26 144.78,212.84 159.73,215.52 167.02,221.68 172.12,211.26 176.86,217.58 179.77,214.42" fill="none" stroke="#d9252f" stroke-width="0.7" stroke-opacity="1" stroke-linejoin="round"/>
<circle cx="34.70" cy="204.64" r="1.7" fill="#d9252f"/>
<circle cx="39.81" cy="211.26" r="1.7" fill="#d9252f"/>
<circle cx="50.01" cy="214.42" r="1.7" fill="#d9252f"/>
<circle cx="65.32" cy="223.89" r="1.7" fill="#d9252f"/>
<circle cx="72.98" cy="189.17" r="1.7" fill="#d9252f"/>
<circle cx="78.08" cy="193.91" r="1.7" fill="#d9252f"/>
<circle cx="90.84" cy="189.17" r="1.7" fill="#d9252f"/>
<circle cx="98.49" cy="190.75" r="1.7" fill="#d9252f"/>
<circle cx="108.33" cy="198.64" r="1.7" fill="#d9252f"/>
<circle cx="118.17" cy="198.64" r="1.7" fill="#d9252f"/>
<circle cx="129.11" cy="211.26" r="1.7" fill="#d9252f"/>
<circle cx="144.78" cy="212.84" r="1.7" fill="#d9252f"/>
<circle cx="159.73" cy="215.52" r="1.7" fill="#d9252f"/>
<circle cx="167.02" cy="221.68" r="1.7" fill="#d9252f"/>
<circle cx="172.12" cy="211.26" r="1.7" fill="#d9252f"/>
<circle cx="176.86" cy="217.58" r="1.7" fill="#d9252f"/>
<circle cx="179.77" cy="214.42" r="1.7" fill="#d9252f"/>
<polyline points="29.60,230.20 34.70,208.58 39.81,212.84 50.01,214.74 65.32,225.47 72.98,192.96 78.08,192.96 90.84,195.48 98.49,198.64 108.33,201.80 118.17,204.95 129.11,214.42 144.78,214.42 159.73,216.00 167.02,216.00 172.12,217.58 176.86,221.68 179.77,217.58" fill="none" stroke="#d9252f" stroke-width="0.7" stroke-opacity="1" stroke-linejoin="round"/>
<circle cx="34.70" cy="208.58" r="1.7" fill="#d9252f"/>
<circle cx="39.81" cy="212.84" r="1.7" fill="#d9252f"/>
<circle cx="50.01" cy="214.74" r="1.7" fill="#d9252f"/>
<circle cx="65.32" cy="225.47" r="1.7" fill="#d9252f"/>
<circle cx="72.98" cy="192.96" r="1.7" fill="#d9252f"/>
<circle cx="78.08" cy="192.96" r="1.7" fill="#d9252f"/>
<circle cx="90.84" cy="195.48" r="1.7" fill="#d9252f"/>
<circle cx="98.49" cy="198.64" r="1.7" fill="#d9252f"/>
<circle cx="108.33" cy="201.80" r="1.7" fill="#d9252f"/>
<circle cx="118.17" cy="204.95" r="1.7" fill="#d9252f"/>
<circle cx="129.11" cy="214.42" r="1.7" fill="#d9252f"/>
<circle cx="144.78" cy="214.42" r="1.7" fill="#d9252f"/>
<circle cx="159.73" cy="216.00" r="1.7" fill="#d9252f"/>
<circle cx="167.02" cy="216.00" r="1.7" fill="#d9252f"/>
<circle cx="172.12" cy="217.58" r="1.7" fill="#d9252f"/>
<circle cx="176.86" cy="221.68" r="1.7" fill="#d9252f"/>
<circle cx="179.77" cy="217.58" r="1.7" fill="#d9252f"/>
<polyline points="29.60,230.20 34.70,210.47 39.81,214.42 50.01,216.00 65.32,226.25 72.98,198.64 78.08,200.22 90.84,200.22 98.49,203.37 108.33,204.95 118.17,208.11 129.11,216.00 144.78,216.00 159.73,217.58 167.02,219.15 172.12,218.36 176.86,219.15 179.77,219.15" fill="none" stroke="#d9252f" stroke-width="0.7" stroke-opacity="1" stroke-linejoin="round"/>
<circle cx="34.70" cy="210.47" r="1.7" fill="#d9252f"/>
<circle cx="39.81" cy="214.42" r="1.7" fill="#d9252f"/>
<circle cx="50.01" cy="216.00" r="1.7" fill="#d9252f"/>
<circle cx="65.32" cy="226.25" r="1.7" fill="#d9252f"/>
<circle cx="72.98" cy="198.64" r="1.7" fill="#d9252f"/>
<circle cx="78.08" cy="200.22" r="1.7" fill="#d9252f"/>
<circle cx="90.84" cy="200.22" r="1.7" fill="#d9252f"/>
<circle cx="98.49" cy="203.37" r="1.7" fill="#d9252f"/>
<circle cx="108.33" cy="204.95" r="1.7" fill="#d9252f"/>
<circle cx="118.17" cy="208.11" r="1.7" fill="#d9252f"/>
<circle cx="129.11" cy="216.00" r="1.7" fill="#d9252f"/>
<circle cx="144.78" cy="216.00" r="1.7" fill="#d9252f"/>
<circle cx="159.73" cy="217.58" r="1.7" fill="#d9252f"/>
<circle cx="167.02" cy="219.15" r="1.7" fill="#d9252f"/>
<circle cx="172.12" cy="218.36" r="1.7" fill="#d9252f"/>
<circle cx="176.86" cy="219.15" r="1.7" fill="#d9252f"/>
<circle cx="179.77" cy="219.15" r="1.7" fill="#d9252f"/>
<circle cx="29.60" cy="116.30" r="1.3" fill="#d9252f"/>
<circle cx="29.60" cy="230.20" r="1.3" fill="#d9252f"/>
<text x="32.80" y="61.80" font-size="6.6" fill="#d9252f" stroke="#d9252f" stroke-width="0.08" text-anchor="start" font-weight="normal" ><tspan font-style="italic">P</tspan> = 0.0171</text>
<path d="M37.85,63.20 L42.15,63.20 L40.00,68.80Z" fill="#d9252f"/>
<text x="81.80" y="115.00" font-size="6.6" fill="#d9252f" stroke="#d9252f" stroke-width="0.08" text-anchor="start" font-weight="normal" ><tspan font-style="italic">P</tspan> = 0.0172</text>
<path d="M76.15,117.80 L80.45,117.80 L78.30,112.20Z" fill="#d9252f"/>
<text x="159.00" y="63.40" font-size="6.7" fill="#d9252f" stroke="#d9252f" stroke-width="0.08" text-anchor="start" font-weight="normal" ><tspan font-style="italic">P</tspan> = NS</text>
<path d="M175.05,65.40 L179.35,65.40 L177.20,71.00Z" fill="#d9252f"/>
<text x="31.40" y="156.90" font-size="6.7" fill="#d9252f" stroke="#d9252f" stroke-width="0.08" text-anchor="start" font-weight="normal" >P = NS</text>
<path d="M33.85,158.20 L38.15,158.20 L36.00,163.80Z" fill="#d9252f"/>
<path d="M38.05,158.20 L42.35,158.20 L40.20,163.80Z" fill="#d9252f"/>
<text x="42.90" y="141.70" font-size="6.6" fill="#d9252f" stroke="#d9252f" stroke-width="0.08" text-anchor="start" font-weight="normal" >P = 0.0185</text>
<path d="M76.85,137.50 L81.15,137.50 L79.00,143.10Z" fill="#d9252f"/>
<text x="160.20" y="185.60" font-size="6.7" fill="#d9252f" stroke="#d9252f" stroke-width="0.08" text-anchor="start" font-weight="normal" ><tspan font-style="italic">P</tspan> = NS</text>
<path d="M175.25,187.50 L179.55,187.50 L177.40,193.10Z" fill="#d9252f"/>
<line x1="214.50" y1="17.70" x2="214.50" y2="111.70" stroke="#606060" stroke-width="0.8"/>
<line x1="212.70" y1="111.70" x2="214.50" y2="111.70" stroke="#606060" stroke-width="0.8"/>
<text x="209.70" y="114.60" font-size="8" fill="#231f20" stroke="#231f20" stroke-width="0.22" text-anchor="end" font-weight="normal" >10<tspan dy="-2.6" font-size="6">1</tspan></text>
<line x1="212.70" y1="92.90" x2="214.50" y2="92.90" stroke="#606060" stroke-width="0.8"/>
<text x="209.70" y="95.80" font-size="8" fill="#231f20" stroke="#231f20" stroke-width="0.22" text-anchor="end" font-weight="normal" >10<tspan dy="-2.6" font-size="6">2</tspan></text>
<line x1="212.70" y1="74.10" x2="214.50" y2="74.10" stroke="#606060" stroke-width="0.8"/>
<text x="209.70" y="77.00" font-size="8" fill="#231f20" stroke="#231f20" stroke-width="0.22" text-anchor="end" font-weight="normal" >10<tspan dy="-2.6" font-size="6">3</tspan></text>
<line x1="212.70" y1="55.30" x2="214.50" y2="55.30" stroke="#606060" stroke-width="0.8"/>
<text x="209.70" y="58.20" font-size="8" fill="#231f20" stroke="#231f20" stroke-width="0.22" text-anchor="end" font-weight="normal" >10<tspan dy="-2.6" font-size="6">4</tspan></text>
<line x1="212.70" y1="36.50" x2="214.50" y2="36.50" stroke="#606060" stroke-width="0.8"/>
<text x="209.70" y="39.40" font-size="8" fill="#231f20" stroke="#231f20" stroke-width="0.22" text-anchor="end" font-weight="normal" >10<tspan dy="-2.6" font-size="6">5</tspan></text>
<line x1="212.70" y1="17.70" x2="214.50" y2="17.70" stroke="#606060" stroke-width="0.8"/>
<text x="209.70" y="20.60" font-size="8" fill="#231f20" stroke="#231f20" stroke-width="0.22" text-anchor="end" font-weight="normal" >10<tspan dy="-2.6" font-size="6">6</tspan></text>
<line x1="214.50" y1="111.70" x2="305.70" y2="111.70" stroke="#606060" stroke-width="0.8"/>
<line x1="215.20" y1="111.70" x2="215.20" y2="113.30" stroke="#606060" stroke-width="0.8"/>
<text x="215.20" y="121.70" font-size="8" fill="#231f20" stroke="#231f20" stroke-width="0.22" text-anchor="middle" font-weight="normal" >0</text>
<line x1="237.70" y1="111.70" x2="237.70" y2="113.30" stroke="#606060" stroke-width="0.8"/>
<text x="237.70" y="121.70" font-size="8" fill="#231f20" stroke="#231f20" stroke-width="0.22" text-anchor="middle" font-weight="normal" >28</text>
<line x1="260.20" y1="111.70" x2="260.20" y2="113.30" stroke="#606060" stroke-width="0.8"/>
<text x="260.20" y="121.70" font-size="8" fill="#231f20" stroke="#231f20" stroke-width="0.22" text-anchor="middle" font-weight="normal" >56</text>
<line x1="282.70" y1="111.70" x2="282.70" y2="113.30" stroke="#606060" stroke-width="0.8"/>
<text x="282.70" y="121.70" font-size="8" fill="#231f20" stroke="#231f20" stroke-width="0.22" text-anchor="middle" font-weight="normal" >84</text>
<line x1="305.20" y1="111.70" x2="305.20" y2="113.30" stroke="#606060" stroke-width="0.8"/>
<text x="305.20" y="121.70" font-size="8" fill="#231f20" stroke="#231f20" stroke-width="0.22" text-anchor="middle" font-weight="normal" >112</text>
<line x1="324.80" y1="17.70" x2="324.80" y2="111.70" stroke="#606060" stroke-width="0.8"/>
<line x1="323.00" y1="111.70" x2="324.80" y2="111.70" stroke="#606060" stroke-width="0.8"/>
<text x="320.00" y="114.60" font-size="8" fill="#231f20" stroke="#231f20" stroke-width="0.22" text-anchor="end" font-weight="normal" >10<tspan dy="-2.6" font-size="6">1</tspan></text>
<line x1="323.00" y1="92.90" x2="324.80" y2="92.90" stroke="#606060" stroke-width="0.8"/>
<text x="320.00" y="95.80" font-size="8" fill="#231f20" stroke="#231f20" stroke-width="0.22" text-anchor="end" font-weight="normal" >10<tspan dy="-2.6" font-size="6">2</tspan></text>
<line x1="323.00" y1="74.10" x2="324.80" y2="74.10" stroke="#606060" stroke-width="0.8"/>
<text x="320.00" y="77.00" font-size="8" fill="#231f20" stroke="#231f20" stroke-width="0.22" text-anchor="end" font-weight="normal" >10<tspan dy="-2.6" font-size="6">3</tspan></text>
<line x1="323.00" y1="55.30" x2="324.80" y2="55.30" stroke="#606060" stroke-width="0.8"/>
<text x="320.00" y="58.20" font-size="8" fill="#231f20" stroke="#231f20" stroke-width="0.22" text-anchor="end" font-weight="normal" >10<tspan dy="-2.6" font-size="6">4</tspan></text>
<line x1="323.00" y1="36.50" x2="324.80" y2="36.50" stroke="#606060" stroke-width="0.8"/>
<text x="320.00" y="39.40" font-size="8" fill="#231f20" stroke="#231f20" stroke-width="0.22" text-anchor="end" font-weight="normal" >10<tspan dy="-2.6" font-size="6">5</tspan></text>
<line x1="323.00" y1="17.70" x2="324.80" y2="17.70" stroke="#606060" stroke-width="0.8"/>
<text x="320.00" y="20.60" font-size="8" fill="#231f20" stroke="#231f20" stroke-width="0.22" text-anchor="end" font-weight="normal" >10<tspan dy="-2.6" font-size="6">6</tspan></text>
<line x1="324.80" y1="111.70" x2="416.60" y2="111.70" stroke="#606060" stroke-width="0.8"/>
<line x1="326.10" y1="111.70" x2="326.10" y2="113.30" stroke="#606060" stroke-width="0.8"/>
<text x="326.10" y="121.70" font-size="8" fill="#231f20" stroke="#231f20" stroke-width="0.22" text-anchor="middle" font-weight="normal" >0</text>
<line x1="348.60" y1="111.70" x2="348.60" y2="113.30" stroke="#606060" stroke-width="0.8"/>
<text x="348.60" y="121.70" font-size="8" fill="#231f20" stroke="#231f20" stroke-width="0.22" text-anchor="middle" font-weight="normal" >28</text>
<line x1="371.10" y1="111.70" x2="371.10" y2="113.30" stroke="#606060" stroke-width="0.8"/>
<text x="371.10" y="121.70" font-size="8" fill="#231f20" stroke="#231f20" stroke-width="0.22" text-anchor="middle" font-weight="normal" >56</text>
<line x1="393.60" y1="111.70" x2="393.60" y2="113.30" stroke="#606060" stroke-width="0.8"/>
<text x="393.60" y="121.70" font-size="8" fill="#231f20" stroke="#231f20" stroke-width="0.22" text-anchor="middle" font-weight="normal" >84</text>
<line x1="416.10" y1="111.70" x2="416.10" y2="113.30" stroke="#606060" stroke-width="0.8"/>
<text x="416.10" y="121.70" font-size="8" fill="#231f20" stroke="#231f20" stroke-width="0.22" text-anchor="middle" font-weight="normal" >112</text>
<line x1="215.00" y1="133.80" x2="215.00" y2="226.80" stroke="#606060" stroke-width="0.8"/>
<line x1="213.20" y1="226.80" x2="215.00" y2="226.80" stroke="#606060" stroke-width="0.8"/>
<text x="210.20" y="229.70" font-size="8" fill="#231f20" stroke="#231f20" stroke-width="0.22" text-anchor="end" font-weight="normal" >10<tspan dy="-2.6" font-size="6">1</tspan></text>
<line x1="213.20" y1="208.20" x2="215.00" y2="208.20" stroke="#606060" stroke-width="0.8"/>
<text x="210.20" y="211.10" font-size="8" fill="#231f20" stroke="#231f20" stroke-width="0.22" text-anchor="end" font-weight="normal" >10<tspan dy="-2.6" font-size="6">2</tspan></text>
<line x1="213.20" y1="189.60" x2="215.00" y2="189.60" stroke="#606060" stroke-width="0.8"/>
<text x="210.20" y="192.50" font-size="8" fill="#231f20" stroke="#231f20" stroke-width="0.22" text-anchor="end" font-weight="normal" >10<tspan dy="-2.6" font-size="6">3</tspan></text>
<line x1="213.20" y1="171.00" x2="215.00" y2="171.00" stroke="#606060" stroke-width="0.8"/>
<text x="210.20" y="173.90" font-size="8" fill="#231f20" stroke="#231f20" stroke-width="0.22" text-anchor="end" font-weight="normal" >10<tspan dy="-2.6" font-size="6">4</tspan></text>
<line x1="213.20" y1="152.40" x2="215.00" y2="152.40" stroke="#606060" stroke-width="0.8"/>
<text x="210.20" y="155.30" font-size="8" fill="#231f20" stroke="#231f20" stroke-width="0.22" text-anchor="end" font-weight="normal" >10<tspan dy="-2.6" font-size="6">5</tspan></text>
<line x1="213.20" y1="133.80" x2="215.00" y2="133.80" stroke="#606060" stroke-width="0.8"/>
<text x="210.20" y="136.70" font-size="8" fill="#231f20" stroke="#231f20" stroke-width="0.22" text-anchor="end" font-weight="normal" >10<tspan dy="-2.6" font-size="6">6</tspan></text>
<line x1="215.00" y1="226.80" x2="305.70" y2="226.80" stroke="#606060" stroke-width="0.8"/>
<line x1="215.20" y1="226.80" x2="215.20" y2="228.40" stroke="#606060" stroke-width="0.8"/>
<text x="215.20" y="236.80" font-size="8" fill="#231f20" stroke="#231f20" stroke-width="0.22" text-anchor="middle" font-weight="normal" >0</text>
<line x1="237.70" y1="226.80" x2="237.70" y2="228.40" stroke="#606060" stroke-width="0.8"/>
<text x="237.70" y="236.80" font-size="8" fill="#231f20" stroke="#231f20" stroke-width="0.22" text-anchor="middle" font-weight="normal" >28</text>
<line x1="260.20" y1="226.80" x2="260.20" y2="228.40" stroke="#606060" stroke-width="0.8"/>
<text x="260.20" y="236.80" font-size="8" fill="#231f20" stroke="#231f20" stroke-width="0.22" text-anchor="middle" font-weight="normal" >56</text>
<line x1="282.70" y1="226.80" x2="282.70" y2="228.40" stroke="#606060" stroke-width="0.8"/>
<text x="282.70" y="236.80" font-size="8" fill="#231f20" stroke="#231f20" stroke-width="0.22" text-anchor="middle" font-weight="normal" >84</text>
<line x1="305.20" y1="226.80" x2="305.20" y2="228.40" stroke="#606060" stroke-width="0.8"/>
<text x="305.20" y="236.80" font-size="8" fill="#231f20" stroke="#231f20" stroke-width="0.22" text-anchor="middle" font-weight="normal" >112</text>
<line x1="325.30" y1="133.80" x2="325.30" y2="226.80" stroke="#606060" stroke-width="0.8"/>
<line x1="323.50" y1="226.80" x2="325.30" y2="226.80" stroke="#606060" stroke-width="0.8"/>
<text x="320.50" y="229.70" font-size="8" fill="#231f20" stroke="#231f20" stroke-width="0.22" text-anchor="end" font-weight="normal" >10<tspan dy="-2.6" font-size="6">1</tspan></text>
<line x1="323.50" y1="208.20" x2="325.30" y2="208.20" stroke="#606060" stroke-width="0.8"/>
<text x="320.50" y="211.10" font-size="8" fill="#231f20" stroke="#231f20" stroke-width="0.22" text-anchor="end" font-weight="normal" >10<tspan dy="-2.6" font-size="6">2</tspan></text>
<line x1="323.50" y1="189.60" x2="325.30" y2="189.60" stroke="#606060" stroke-width="0.8"/>
<text x="320.50" y="192.50" font-size="8" fill="#231f20" stroke="#231f20" stroke-width="0.22" text-anchor="end" font-weight="normal" >10<tspan dy="-2.6" font-size="6">3</tspan></text>
<line x1="323.50" y1="171.00" x2="325.30" y2="171.00" stroke="#606060" stroke-width="0.8"/>
<text x="320.50" y="173.90" font-size="8" fill="#231f20" stroke="#231f20" stroke-width="0.22" text-anchor="end" font-weight="normal" >10<tspan dy="-2.6" font-size="6">4</tspan></text>
<line x1="323.50" y1="152.40" x2="325.30" y2="152.40" stroke="#606060" stroke-width="0.8"/>
<text x="320.50" y="155.30" font-size="8" fill="#231f20" stroke="#231f20" stroke-width="0.22" text-anchor="end" font-weight="normal" >10<tspan dy="-2.6" font-size="6">5</tspan></text>
<line x1="323.50" y1="133.80" x2="325.30" y2="133.80" stroke="#606060" stroke-width="0.8"/>
<text x="320.50" y="136.70" font-size="8" fill="#231f20" stroke="#231f20" stroke-width="0.22" text-anchor="end" font-weight="normal" >10<tspan dy="-2.6" font-size="6">6</tspan></text>
<line x1="325.30" y1="226.80" x2="416.30" y2="226.80" stroke="#606060" stroke-width="0.8"/>
<line x1="325.80" y1="226.80" x2="325.80" y2="228.40" stroke="#606060" stroke-width="0.8"/>
<text x="325.80" y="236.80" font-size="8" fill="#231f20" stroke="#231f20" stroke-width="0.22" text-anchor="middle" font-weight="normal" >0</text>
<line x1="348.30" y1="226.80" x2="348.30" y2="228.40" stroke="#606060" stroke-width="0.8"/>
<text x="348.30" y="236.80" font-size="8" fill="#231f20" stroke="#231f20" stroke-width="0.22" text-anchor="middle" font-weight="normal" >28</text>
<line x1="370.80" y1="226.80" x2="370.80" y2="228.40" stroke="#606060" stroke-width="0.8"/>
<text x="370.80" y="236.80" font-size="8" fill="#231f20" stroke="#231f20" stroke-width="0.22" text-anchor="middle" font-weight="normal" >56</text>
<line x1="393.30" y1="226.80" x2="393.30" y2="228.40" stroke="#606060" stroke-width="0.8"/>
<text x="393.30" y="236.80" font-size="8" fill="#231f20" stroke="#231f20" stroke-width="0.22" text-anchor="middle" font-weight="normal" >84</text>
<line x1="415.80" y1="226.80" x2="415.80" y2="228.40" stroke="#606060" stroke-width="0.8"/>
<text x="415.80" y="236.80" font-size="8" fill="#231f20" stroke="#231f20" stroke-width="0.22" text-anchor="middle" font-weight="normal" >112</text>
<text x="216.60" y="14.00" font-size="9.27" fill="#231f20" stroke="#231f20" stroke-width="0.22" text-anchor="start" font-weight="normal" >Group A (CMV/CMV)</text>
<text x="330.20" y="14.20" font-size="9.35" fill="#231f20" stroke="#231f20" stroke-width="0.22" text-anchor="start" font-weight="normal" >Group B (CMV/Ad5)</text>
<text x="262.60" y="130.60" font-size="9.2" fill="#231f20" stroke="#231f20" stroke-width="0.22" text-anchor="middle" font-weight="normal" >Group C (DNA/Ad5)</text>
<text x="373.60" y="130.60" font-size="9.4" fill="#231f20" stroke="#231f20" stroke-width="0.22" text-anchor="middle" font-weight="normal" >Group D (controls)</text>
<text x="217.00" y="25.20" font-size="6.8" fill="#231f20" stroke="#231f20" stroke-width="0.08" text-anchor="start" font-weight="normal" >Log change at day 112</text>
<text x="217.00" y="32.30" font-size="6.8" fill="#231f20" stroke="#231f20" stroke-width="0.08" text-anchor="start" font-weight="normal" >= <tspan fill="#d9252f">0.02*</tspan>/3.64</text>
<text x="217.00" y="48.40" font-size="6.8" fill="#231f20" stroke="#231f20" stroke-width="0.08" text-anchor="start" font-weight="normal" >Non-controllers</text>
<text x="303.00" y="100.00" font-size="6.6" fill="#d9252f" stroke="#d9252f" stroke-width="0.08" text-anchor="end" font-weight="normal" >Controllers</text>
<text x="326.00" y="22.70" font-size="6.45" fill="#231f20" stroke="#231f20" stroke-width="0.08" text-anchor="start" font-weight="normal" >Log change at day 112 =</text>
<text x="326.00" y="30.60" font-size="6.45" fill="#231f20" stroke="#231f20" stroke-width="0.08" text-anchor="start" font-weight="normal" ><tspan fill="#d9252f">0.00**</tspan>/2.62</text>
<text x="217.70" y="140.00" font-size="6.6" fill="#231f20" stroke="#231f20" stroke-width="0.08" text-anchor="start" font-weight="normal" >Log change at day 112 = 2.12</text>
<text x="327.70" y="140.40" font-size="6.8" fill="#231f20" stroke="#231f20" stroke-width="0.08" text-anchor="start" font-weight="normal" >Log change</text>
<text x="327.70" y="148.10" font-size="6.8" fill="#231f20" stroke="#231f20" stroke-width="0.08" text-anchor="start" font-weight="normal" >at day 112</text>
<text x="327.70" y="155.50" font-size="6.8" fill="#231f20" stroke="#231f20" stroke-width="0.08" text-anchor="start" font-weight="normal" >= 3.24</text>
<text x="265.20" y="249.80" font-size="9.4" fill="#231f20" stroke="#231f20" stroke-width="0.22" text-anchor="start" font-weight="normal" >Time after infection (days)</text>
<text transform="translate(194.80,122.60) rotate(-90)" font-size="9.2" fill="#231f20" stroke="#231f20" stroke-width="0.22" text-anchor="middle">Neutralizing antibody titre (SIV<tspan dy="2.5" font-size="6.2">MAC251</tspan><tspan dy="-2.5">)</tspan></text>
<polyline points="215.20,105.00 237.70,71.00 260.20,57.00 282.70,33.60 305.20,40.00" fill="none" stroke="#111" stroke-width="0.6" stroke-opacity="1" stroke-linejoin="round"/>
<rect x="213.85" y="103.65" width="2.7" height="2.7" fill="#111"/>
<rect x="236.35" y="69.65" width="2.7" height="2.7" fill="#111"/>
<rect x="258.85" y="55.65" width="2.7" height="2.7" fill="#111"/>
<rect x="281.35" y="32.25" width="2.7" height="2.7" fill="#111"/>
<rect x="303.85" y="38.65" width="2.7" height="2.7" fill="#111"/>
<polyline points="215.20,105.00 237.70,79.30 260.20,62.00 282.70,42.60 305.20,45.00" fill="none" stroke="#111" stroke-width="0.6" stroke-opacity="1" stroke-linejoin="round"/>
<rect x="213.85" y="103.65" width="2.7" height="2.7" fill="#111"/>
<rect x="236.35" y="77.95" width="2.7" height="2.7" fill="#111"/>
<rect x="258.85" y="60.65" width="2.7" height="2.7" fill="#111"/>
<rect x="281.35" y="41.25" width="2.7" height="2.7" fill="#111"/>
<rect x="303.85" y="43.65" width="2.7" height="2.7" fill="#111"/>
<polyline points="215.20,105.00 237.70,85.20 260.20,60.00 282.70,47.80 305.20,41.90" fill="none" stroke="#111" stroke-width="0.6" stroke-opacity="1" stroke-linejoin="round"/>
<rect x="213.85" y="103.65" width="2.7" height="2.7" fill="#111"/>
<rect x="236.35" y="83.85" width="2.7" height="2.7" fill="#111"/>
<rect x="258.85" y="58.65" width="2.7" height="2.7" fill="#111"/>
<rect x="281.35" y="46.45" width="2.7" height="2.7" fill="#111"/>
<rect x="303.85" y="40.55" width="2.7" height="2.7" fill="#111"/>
<polyline points="215.20,105.00 237.70,93.40 260.20,63.00 282.70,52.00 305.20,39.50" fill="none" stroke="#111" stroke-width="0.6" stroke-opacity="1" stroke-linejoin="round"/>
<rect x="213.85" y="103.65" width="2.7" height="2.7" fill="#111"/>
<rect x="236.35" y="92.05" width="2.7" height="2.7" fill="#111"/>
<rect x="258.85" y="61.65" width="2.7" height="2.7" fill="#111"/>
<rect x="281.35" y="50.65" width="2.7" height="2.7" fill="#111"/>
<rect x="303.85" y="38.15" width="2.7" height="2.7" fill="#111"/>
<polyline points="215.20,105.00 237.70,101.70 260.20,55.00 282.70,45.40 305.20,21.80" fill="none" stroke="#111" stroke-width="0.6" stroke-opacity="1" stroke-linejoin="round"/>
<rect x="213.85" y="103.65" width="2.7" height="2.7" fill="#111"/>
<rect x="236.35" y="100.35" width="2.7" height="2.7" fill="#111"/>
<rect x="258.85" y="53.65" width="2.7" height="2.7" fill="#111"/>
<rect x="281.35" y="44.05" width="2.7" height="2.7" fill="#111"/>
<rect x="303.85" y="20.45" width="2.7" height="2.7" fill="#111"/>
<polyline points="215.20,105.00 237.70,104.30 260.20,105.30 282.70,104.30 305.20,103.40" fill="none" stroke="#d9252f" stroke-width="0.6" stroke-opacity="1" stroke-linejoin="round"/>
<rect x="213.85" y="103.65" width="2.7" height="2.7" fill="#d9252f"/>
<rect x="236.35" y="102.95" width="2.7" height="2.7" fill="#d9252f"/>
<rect x="258.85" y="103.95" width="2.7" height="2.7" fill="#d9252f"/>
<rect x="281.35" y="102.95" width="2.7" height="2.7" fill="#d9252f"/>
<rect x="303.85" y="102.05" width="2.7" height="2.7" fill="#d9252f"/>
<polyline points="215.20,105.00 237.70,103.00 260.20,105.30 282.70,103.50 305.20,102.20" fill="none" stroke="#d9252f" stroke-width="0.6" stroke-opacity="1" stroke-linejoin="round"/>
<rect x="213.85" y="103.65" width="2.7" height="2.7" fill="#d9252f"/>
<rect x="236.35" y="101.65" width="2.7" height="2.7" fill="#d9252f"/>
<rect x="258.85" y="103.95" width="2.7" height="2.7" fill="#d9252f"/>
<rect x="281.35" y="102.15" width="2.7" height="2.7" fill="#d9252f"/>
<rect x="303.85" y="100.85" width="2.7" height="2.7" fill="#d9252f"/>
<polyline points="215.20,105.00 237.70,104.80 260.20,105.00 282.70,104.80 305.20,104.60" fill="none" stroke="#d9252f" stroke-width="0.6" stroke-opacity="1" stroke-linejoin="round"/>
<rect x="213.85" y="103.65" width="2.7" height="2.7" fill="#d9252f"/>
<rect x="236.35" y="103.45" width="2.7" height="2.7" fill="#d9252f"/>
<rect x="258.85" y="103.65" width="2.7" height="2.7" fill="#d9252f"/>
<rect x="281.35" y="103.45" width="2.7" height="2.7" fill="#d9252f"/>
<rect x="303.85" y="103.25" width="2.7" height="2.7" fill="#d9252f"/>
<line x1="249.5" y1="95.6" x2="244" y2="99.2" stroke="#111" stroke-width="0.7"/>
<path d="M239.8,101.8 L243.2,96.6 L246.2,100.8Z" fill="#111"/>
<text x="247.80" y="97.50" font-size="6.8" fill="#231f20" stroke="#231f20" stroke-width="0.08" text-anchor="start" font-weight="normal" >RP</text>
<polyline points="326.10,87.00 348.60,34.10 371.10,35.60 393.60,41.00 416.10,41.00" fill="none" stroke="#111" stroke-width="0.6" stroke-opacity="1" stroke-linejoin="round"/>
<rect x="324.75" y="85.65" width="2.7" height="2.7" fill="#111"/>
<rect x="347.25" y="32.75" width="2.7" height="2.7" fill="#111"/>
<rect x="369.75" y="34.25" width="2.7" height="2.7" fill="#111"/>
<rect x="392.25" y="39.65" width="2.7" height="2.7" fill="#111"/>
<rect x="414.75" y="39.65" width="2.7" height="2.7" fill="#111"/>
<polyline points="326.10,90.60 348.60,34.50 371.10,41.00 393.60,42.70 416.10,46.30" fill="none" stroke="#111" stroke-width="0.6" stroke-opacity="1" stroke-linejoin="round"/>
<rect x="324.75" y="89.25" width="2.7" height="2.7" fill="#111"/>
<rect x="347.25" y="33.15" width="2.7" height="2.7" fill="#111"/>
<rect x="369.75" y="39.65" width="2.7" height="2.7" fill="#111"/>
<rect x="392.25" y="41.35" width="2.7" height="2.7" fill="#111"/>
<rect x="414.75" y="44.95" width="2.7" height="2.7" fill="#111"/>
<polyline points="326.10,94.10 348.60,35.00 371.10,46.30 393.60,49.80 416.10,49.80" fill="none" stroke="#111" stroke-width="0.6" stroke-opacity="1" stroke-linejoin="round"/>
<rect x="324.75" y="92.75" width="2.7" height="2.7" fill="#111"/>
<rect x="347.25" y="33.65" width="2.7" height="2.7" fill="#111"/>
<rect x="369.75" y="44.95" width="2.7" height="2.7" fill="#111"/>
<rect x="392.25" y="48.45" width="2.7" height="2.7" fill="#111"/>
<rect x="414.75" y="48.45" width="2.7" height="2.7" fill="#111"/>
<polyline points="326.10,101.20 348.60,47.80 371.10,55.10 393.60,51.60 416.10,53.40" fill="none" stroke="#111" stroke-width="0.6" stroke-opacity="1" stroke-linejoin="round"/>
<rect x="324.75" y="99.85" width="2.7" height="2.7" fill="#111"/>
<rect x="347.25" y="46.45" width="2.7" height="2.7" fill="#111"/>
<rect x="369.75" y="53.75" width="2.7" height="2.7" fill="#111"/>
<rect x="392.25" y="50.25" width="2.7" height="2.7" fill="#111"/>
<rect x="414.75" y="52.05" width="2.7" height="2.7" fill="#111"/>
<polyline points="326.10,103.00 348.60,49.50 371.10,45.00 393.60,42.00 416.10,48.00" fill="none" stroke="#111" stroke-width="0.6" stroke-opacity="1" stroke-linejoin="round"/>
<rect x="324.75" y="101.65" width="2.7" height="2.7" fill="#111"/>
<rect x="347.25" y="48.15" width="2.7" height="2.7" fill="#111"/>
<rect x="369.75" y="43.65" width="2.7" height="2.7" fill="#111"/>
<rect x="392.25" y="40.65" width="2.7" height="2.7" fill="#111"/>
<rect x="414.75" y="46.65" width="2.7" height="2.7" fill="#111"/>
<polyline points="326.10,79.20 348.60,82.00 371.10,82.90 393.60,85.60 416.10,82.00" fill="none" stroke="#d9252f" stroke-width="0.6" stroke-opacity="1" stroke-linejoin="round"/>
<rect x="324.80" y="77.90" width="2.6" height="2.6" fill="#d9252f"/>
<rect x="347.30" y="80.70" width="2.6" height="2.6" fill="#d9252f"/>
<rect x="369.80" y="81.60" width="2.6" height="2.6" fill="#d9252f"/>
<rect x="392.30" y="84.30" width="2.6" height="2.6" fill="#d9252f"/>
<rect x="414.80" y="80.70" width="2.6" height="2.6" fill="#d9252f"/>
<polyline points="326.10,96.50 348.60,92.10 371.10,93.00 393.60,97.40 416.10,93.00" fill="none" stroke="#d9252f" stroke-width="0.6" stroke-opacity="1" stroke-linejoin="round"/>
<rect x="324.80" y="95.20" width="2.6" height="2.6" fill="#d9252f"/>
<rect x="347.30" y="90.80" width="2.6" height="2.6" fill="#d9252f"/>
<rect x="369.80" y="91.70" width="2.6" height="2.6" fill="#d9252f"/>
<rect x="392.30" y="96.10" width="2.6" height="2.6" fill="#d9252f"/>
<rect x="414.80" y="91.70" width="2.6" height="2.6" fill="#d9252f"/>
<polyline points="326.10,99.20 348.60,94.80 371.10,98.30 393.60,100.10 416.10,95.70" fill="none" stroke="#d9252f" stroke-width="0.6" stroke-opacity="1" stroke-linejoin="round"/>
<rect x="324.80" y="97.90" width="2.6" height="2.6" fill="#d9252f"/>
<rect x="347.30" y="93.50" width="2.6" height="2.6" fill="#d9252f"/>
<rect x="369.80" y="97.00" width="2.6" height="2.6" fill="#d9252f"/>
<rect x="392.30" y="98.80" width="2.6" height="2.6" fill="#d9252f"/>
<rect x="414.80" y="94.40" width="2.6" height="2.6" fill="#d9252f"/>
<polyline points="326.10,101.90 348.60,96.50 371.10,101.00 393.60,101.90 416.10,98.30" fill="none" stroke="#d9252f" stroke-width="0.6" stroke-opacity="1" stroke-linejoin="round"/>
<rect x="324.80" y="100.60" width="2.6" height="2.6" fill="#d9252f"/>
<rect x="347.30" y="95.20" width="2.6" height="2.6" fill="#d9252f"/>
<rect x="369.80" y="99.70" width="2.6" height="2.6" fill="#d9252f"/>
<rect x="392.30" y="100.60" width="2.6" height="2.6" fill="#d9252f"/>
<rect x="414.80" y="97.00" width="2.6" height="2.6" fill="#d9252f"/>
<polyline points="326.10,101.90 348.60,101.90 371.10,104.50 393.60,104.50 416.10,104.50" fill="none" stroke="#d9252f" stroke-width="0.6" stroke-opacity="1" stroke-linejoin="round"/>
<rect x="324.80" y="100.60" width="2.6" height="2.6" fill="#d9252f"/>
<rect x="347.30" y="100.60" width="2.6" height="2.6" fill="#d9252f"/>
<rect x="369.80" y="103.20" width="2.6" height="2.6" fill="#d9252f"/>
<rect x="392.30" y="103.20" width="2.6" height="2.6" fill="#d9252f"/>
<rect x="414.80" y="103.20" width="2.6" height="2.6" fill="#d9252f"/>
<polyline points="326.10,98.00 348.60,101.90 371.10,95.70 393.60,100.10 416.10,93.00" fill="none" stroke="#d9252f" stroke-width="0.6" stroke-opacity="1" stroke-linejoin="round"/>
<rect x="324.80" y="96.70" width="2.6" height="2.6" fill="#d9252f"/>
<rect x="347.30" y="100.60" width="2.6" height="2.6" fill="#d9252f"/>
<rect x="369.80" y="94.40" width="2.6" height="2.6" fill="#d9252f"/>
<rect x="392.30" y="98.80" width="2.6" height="2.6" fill="#d9252f"/>
<rect x="414.80" y="91.70" width="2.6" height="2.6" fill="#d9252f"/>
<polyline points="215.20,193.30 237.70,153.90 260.20,162.00 282.70,158.80 305.20,146.00" fill="none" stroke="#111" stroke-width="0.6" stroke-opacity="1" stroke-linejoin="round"/>
<rect x="213.85" y="191.95" width="2.7" height="2.7" fill="#111"/>
<rect x="236.35" y="152.55" width="2.7" height="2.7" fill="#111"/>
<rect x="258.85" y="160.65" width="2.7" height="2.7" fill="#111"/>
<rect x="281.35" y="157.45" width="2.7" height="2.7" fill="#111"/>
<rect x="303.85" y="144.65" width="2.7" height="2.7" fill="#111"/>
<polyline points="215.20,205.70 237.70,159.80 260.20,159.80 282.70,162.00 305.20,162.70" fill="none" stroke="#111" stroke-width="0.6" stroke-opacity="1" stroke-linejoin="round"/>
<rect x="213.85" y="204.35" width="2.7" height="2.7" fill="#111"/>
<rect x="236.35" y="158.45" width="2.7" height="2.7" fill="#111"/>
<rect x="258.85" y="158.45" width="2.7" height="2.7" fill="#111"/>
<rect x="281.35" y="160.65" width="2.7" height="2.7" fill="#111"/>
<rect x="303.85" y="161.35" width="2.7" height="2.7" fill="#111"/>
<polyline points="215.20,207.50 237.70,162.00 260.20,165.00 282.70,160.00 305.20,168.60" fill="none" stroke="#111" stroke-width="0.6" stroke-opacity="1" stroke-linejoin="round"/>
<rect x="213.85" y="206.15" width="2.7" height="2.7" fill="#111"/>
<rect x="236.35" y="160.65" width="2.7" height="2.7" fill="#111"/>
<rect x="258.85" y="163.65" width="2.7" height="2.7" fill="#111"/>
<rect x="281.35" y="158.65" width="2.7" height="2.7" fill="#111"/>
<rect x="303.85" y="167.25" width="2.7" height="2.7" fill="#111"/>
<polyline points="215.20,209.60 237.70,165.70 260.20,169.60 282.70,165.70 305.20,172.00" fill="none" stroke="#111" stroke-width="0.6" stroke-opacity="1" stroke-linejoin="round"/>
<rect x="213.85" y="208.25" width="2.7" height="2.7" fill="#111"/>
<rect x="236.35" y="164.35" width="2.7" height="2.7" fill="#111"/>
<rect x="258.85" y="168.25" width="2.7" height="2.7" fill="#111"/>
<rect x="281.35" y="164.35" width="2.7" height="2.7" fill="#111"/>
<rect x="303.85" y="170.65" width="2.7" height="2.7" fill="#111"/>
<polyline points="215.20,217.50 237.70,160.50 260.20,174.50 282.70,158.80 305.20,176.50" fill="none" stroke="#111" stroke-width="0.6" stroke-opacity="1" stroke-linejoin="round"/>
<rect x="213.85" y="216.15" width="2.7" height="2.7" fill="#111"/>
<rect x="236.35" y="159.15" width="2.7" height="2.7" fill="#111"/>
<rect x="258.85" y="173.15" width="2.7" height="2.7" fill="#111"/>
<rect x="281.35" y="157.45" width="2.7" height="2.7" fill="#111"/>
<rect x="303.85" y="175.15" width="2.7" height="2.7" fill="#111"/>
<polyline points="215.20,219.50 237.70,171.60 260.20,163.00 282.70,173.50 305.20,170.00" fill="none" stroke="#111" stroke-width="0.6" stroke-opacity="1" stroke-linejoin="round"/>
<rect x="213.85" y="218.15" width="2.7" height="2.7" fill="#111"/>
<rect x="236.35" y="170.25" width="2.7" height="2.7" fill="#111"/>
<rect x="258.85" y="161.65" width="2.7" height="2.7" fill="#111"/>
<rect x="281.35" y="172.15" width="2.7" height="2.7" fill="#111"/>
<rect x="303.85" y="168.65" width="2.7" height="2.7" fill="#111"/>
<polyline points="215.20,221.40 237.70,163.50 260.20,178.40 282.70,162.50 305.20,174.00" fill="none" stroke="#111" stroke-width="0.6" stroke-opacity="1" stroke-linejoin="round"/>
<rect x="213.85" y="220.05" width="2.7" height="2.7" fill="#111"/>
<rect x="236.35" y="162.15" width="2.7" height="2.7" fill="#111"/>
<rect x="258.85" y="177.05" width="2.7" height="2.7" fill="#111"/>
<rect x="281.35" y="161.15" width="2.7" height="2.7" fill="#111"/>
<rect x="303.85" y="172.65" width="2.7" height="2.7" fill="#111"/>
<polyline points="215.20,205.70 237.70,211.60 260.20,161.00 282.70,164.00 305.20,167.00" fill="none" stroke="#111" stroke-width="0.6" stroke-opacity="1" stroke-linejoin="round"/>
<rect x="213.85" y="204.35" width="2.7" height="2.7" fill="#111"/>
<rect x="236.35" y="210.25" width="2.7" height="2.7" fill="#111"/>
<rect x="258.85" y="159.65" width="2.7" height="2.7" fill="#111"/>
<rect x="281.35" y="162.65" width="2.7" height="2.7" fill="#111"/>
<rect x="303.85" y="165.65" width="2.7" height="2.7" fill="#111"/>
<polyline points="325.80,220.60 348.30,169.50 370.80,150.60 393.30,148.30 415.80,162.40" fill="none" stroke="#111" stroke-width="0.6" stroke-opacity="1" stroke-linejoin="round"/>
<rect x="324.45" y="219.25" width="2.7" height="2.7" fill="#111"/>
<rect x="346.95" y="168.15" width="2.7" height="2.7" fill="#111"/>
<rect x="369.45" y="149.25" width="2.7" height="2.7" fill="#111"/>
<rect x="391.95" y="146.95" width="2.7" height="2.7" fill="#111"/>
<rect x="414.45" y="161.05" width="2.7" height="2.7" fill="#111"/>
<polyline points="325.80,220.60 348.30,181.30 370.80,151.50 393.30,155.40 415.80,157.70" fill="none" stroke="#111" stroke-width="0.6" stroke-opacity="1" stroke-linejoin="round"/>
<rect x="324.45" y="219.25" width="2.7" height="2.7" fill="#111"/>
<rect x="346.95" y="179.95" width="2.7" height="2.7" fill="#111"/>
<rect x="369.45" y="150.15" width="2.7" height="2.7" fill="#111"/>
<rect x="391.95" y="154.05" width="2.7" height="2.7" fill="#111"/>
<rect x="414.45" y="156.35" width="2.7" height="2.7" fill="#111"/>
<polyline points="325.80,220.60 348.30,183.70 370.80,153.00 393.30,156.50 415.80,160.00" fill="none" stroke="#111" stroke-width="0.6" stroke-opacity="1" stroke-linejoin="round"/>
<rect x="324.45" y="219.25" width="2.7" height="2.7" fill="#111"/>
<rect x="346.95" y="182.35" width="2.7" height="2.7" fill="#111"/>
<rect x="369.45" y="151.65" width="2.7" height="2.7" fill="#111"/>
<rect x="391.95" y="155.15" width="2.7" height="2.7" fill="#111"/>
<rect x="414.45" y="158.65" width="2.7" height="2.7" fill="#111"/>
<polyline points="325.80,220.60 348.30,188.40 370.80,162.40 393.30,160.80 415.80,149.40" fill="none" stroke="#111" stroke-width="0.6" stroke-opacity="1" stroke-linejoin="round"/>
<rect x="324.45" y="219.25" width="2.7" height="2.7" fill="#111"/>
<rect x="346.95" y="187.05" width="2.7" height="2.7" fill="#111"/>
<rect x="369.45" y="161.05" width="2.7" height="2.7" fill="#111"/>
<rect x="391.95" y="159.45" width="2.7" height="2.7" fill="#111"/>
<rect x="414.45" y="148.05" width="2.7" height="2.7" fill="#111"/>
<polyline points="325.80,220.60 348.30,176.00 370.80,137.50 393.30,152.00 415.80,168.30" fill="none" stroke="#111" stroke-width="0.6" stroke-opacity="1" stroke-linejoin="round"/>
<rect x="324.45" y="219.25" width="2.7" height="2.7" fill="#111"/>
<rect x="346.95" y="174.65" width="2.7" height="2.7" fill="#111"/>
<rect x="369.45" y="136.15" width="2.7" height="2.7" fill="#111"/>
<rect x="391.95" y="150.65" width="2.7" height="2.7" fill="#111"/>
<rect x="414.45" y="166.95" width="2.7" height="2.7" fill="#111"/>
<polyline points="325.80,220.60 348.30,185.00 370.80,154.20 393.30,158.00 415.80,161.00" fill="none" stroke="#111" stroke-width="0.6" stroke-opacity="1" stroke-linejoin="round"/>
<rect x="324.45" y="219.25" width="2.7" height="2.7" fill="#111"/>
<rect x="346.95" y="183.65" width="2.7" height="2.7" fill="#111"/>
<rect x="369.45" y="152.85" width="2.7" height="2.7" fill="#111"/>
<rect x="391.95" y="156.65" width="2.7" height="2.7" fill="#111"/>
<rect x="414.45" y="159.65" width="2.7" height="2.7" fill="#111"/>
<polyline points="325.80,220.60 348.30,220.40 370.80,202.40 393.30,204.50 415.80,208.60" fill="none" stroke="#111" stroke-width="0.6" stroke-opacity="1" stroke-linejoin="round"/>
<rect x="324.45" y="219.25" width="2.7" height="2.7" fill="#111"/>
<rect x="346.95" y="219.05" width="2.7" height="2.7" fill="#111"/>
<rect x="369.45" y="201.05" width="2.7" height="2.7" fill="#111"/>
<rect x="391.95" y="203.15" width="2.7" height="2.7" fill="#111"/>
<rect x="414.45" y="207.25" width="2.7" height="2.7" fill="#111"/>
<polyline points="348.30,220.40 370.80,207.30 393.30,217.40 415.80,220.10" fill="none" stroke="#111" stroke-width="0.6" stroke-opacity="1" stroke-linejoin="round"/>
<rect x="346.95" y="219.05" width="2.7" height="2.7" fill="#111"/>
<rect x="369.45" y="205.95" width="2.7" height="2.7" fill="#111"/>
<rect x="391.95" y="216.05" width="2.7" height="2.7" fill="#111"/>
<rect x="414.45" y="218.75" width="2.7" height="2.7" fill="#111"/>
<polyline points="348.30,220.40 415.80,220.40" fill="none" stroke="#d9252f" stroke-width="0.6" stroke-opacity="0.85" stroke-linejoin="round"/>
<circle cx="370.80" cy="220.40" r="1.5" fill="#d9252f"/>
<circle cx="393.30" cy="220.40" r="1.5" fill="#d9252f"/>
<text x="391.90" y="212.80" font-size="6.6" fill="#555" stroke="#555" stroke-width="0.08" text-anchor="start" font-weight="normal" >RP</text>
<text x="374.20" y="226.60" font-size="6.86" fill="#d9252f" stroke="#d9252f" stroke-width="0.08" text-anchor="start" font-weight="normal" >Occult infection</text>
<text x="568.90" y="25.80" font-size="9.3" fill="#231f20" stroke="#231f20" stroke-width="0.22" text-anchor="middle" font-weight="normal" >Peripheral blood (memory compartment)</text>
<line x1="459.30" y1="30.40" x2="673.80" y2="30.40" stroke="#231f20" stroke-width="0.8"/>
<text x="510.50" y="45.00" font-size="8" fill="#231f20" stroke="#231f20" stroke-width="0.22" text-anchor="middle" font-weight="normal" >CD4<tspan dy="-2.6" font-size="4.8">+</tspan><tspan dy="2.6"> T cells</tspan></text>
<text x="626.00" y="45.00" font-size="8" fill="#231f20" stroke="#231f20" stroke-width="0.22" text-anchor="middle" font-weight="normal" >CD8<tspan dy="-2.6" font-size="4.8">+</tspan><tspan dy="2.6"> T cells</tspan></text>
<text transform="translate(434.00,126.00) rotate(-90)" font-size="9.65" fill="#231f20" stroke="#231f20" stroke-width="0.22" text-anchor="middle">SIV-Gag-specific T-cell response</text>
<text transform="translate(447.40,128.60) rotate(-90)" font-size="9.5" fill="#231f20" stroke="#231f20" stroke-width="0.22" text-anchor="middle">(fold change from baseline)</text>
<text transform="translate(678.00,68.20) rotate(90)" font-size="7.8" fill="#231f20" stroke="#231f20" stroke-width="0.22" text-anchor="middle">Controllers</text>
<text transform="translate(677.70,155.30) rotate(90)" font-size="7.8" fill="#231f20" stroke="#231f20" stroke-width="0.22" text-anchor="middle">Non-controllers</text>
<line x1="458.80" y1="46.00" x2="458.80" y2="99.10" stroke="#606060" stroke-width="0.8"/>
<line x1="457.00" y1="99.10" x2="458.80" y2="99.10" stroke="#606060" stroke-width="0.8"/>
<text x="455.60" y="101.50" font-size="6.8" fill="#231f20" stroke="#231f20" stroke-width="0.08" text-anchor="end" font-weight="normal" >0</text>
<line x1="457.00" y1="81.40" x2="458.80" y2="81.40" stroke="#606060" stroke-width="0.8"/>
<text x="455.60" y="83.80" font-size="6.8" fill="#231f20" stroke="#231f20" stroke-width="0.08" text-anchor="end" font-weight="normal" >2</text>
<line x1="457.00" y1="63.70" x2="458.80" y2="63.70" stroke="#606060" stroke-width="0.8"/>
<text x="455.60" y="66.10" font-size="6.8" fill="#231f20" stroke="#231f20" stroke-width="0.08" text-anchor="end" font-weight="normal" >4</text>
<line x1="457.00" y1="46.00" x2="458.80" y2="46.00" stroke="#606060" stroke-width="0.8"/>
<text x="455.60" y="48.40" font-size="6.8" fill="#231f20" stroke="#231f20" stroke-width="0.08" text-anchor="end" font-weight="normal" >6</text>
<line x1="458.80" y1="99.10" x2="559.00" y2="99.10" stroke="#606060" stroke-width="0.8"/>
<line x1="458.80" y1="99.10" x2="458.80" y2="100.90" stroke="#606060" stroke-width="0.8"/>
<line x1="473.12" y1="99.10" x2="473.12" y2="100.90" stroke="#606060" stroke-width="0.8"/>
<line x1="487.43" y1="99.10" x2="487.43" y2="100.90" stroke="#606060" stroke-width="0.8"/>
<line x1="501.75" y1="99.10" x2="501.75" y2="100.90" stroke="#606060" stroke-width="0.8"/>
<line x1="516.06" y1="99.10" x2="516.06" y2="100.90" stroke="#606060" stroke-width="0.8"/>
<line x1="530.38" y1="99.10" x2="530.38" y2="100.90" stroke="#606060" stroke-width="0.8"/>
<line x1="544.69" y1="99.10" x2="544.69" y2="100.90" stroke="#606060" stroke-width="0.8"/>
<line x1="559.00" y1="99.10" x2="559.00" y2="100.90" stroke="#606060" stroke-width="0.8"/>
<line x1="572.50" y1="46.00" x2="572.50" y2="99.10" stroke="#606060" stroke-width="0.8"/>
<line x1="570.70" y1="99.10" x2="572.50" y2="99.10" stroke="#606060" stroke-width="0.8"/>
<text x="569.30" y="101.50" font-size="6.8" fill="#231f20" stroke="#231f20" stroke-width="0.08" text-anchor="end" font-weight="normal" >0</text>
<line x1="570.70" y1="81.40" x2="572.50" y2="81.40" stroke="#606060" stroke-width="0.8"/>
<text x="569.30" y="83.80" font-size="6.8" fill="#231f20" stroke="#231f20" stroke-width="0.08" text-anchor="end" font-weight="normal" >2</text>
<line x1="570.70" y1="63.70" x2="572.50" y2="63.70" stroke="#606060" stroke-width="0.8"/>
<text x="569.30" y="66.10" font-size="6.8" fill="#231f20" stroke="#231f20" stroke-width="0.08" text-anchor="end" font-weight="normal" >4</text>
<line x1="570.70" y1="46.00" x2="572.50" y2="46.00" stroke="#606060" stroke-width="0.8"/>
<text x="569.30" y="48.40" font-size="6.8" fill="#231f20" stroke="#231f20" stroke-width="0.08" text-anchor="end" font-weight="normal" >6</text>
<line x1="572.50" y1="99.10" x2="672.71" y2="99.10" stroke="#606060" stroke-width="0.8"/>
<line x1="572.50" y1="99.10" x2="572.50" y2="100.90" stroke="#606060" stroke-width="0.8"/>
<line x1="586.82" y1="99.10" x2="586.82" y2="100.90" stroke="#606060" stroke-width="0.8"/>
<line x1="601.13" y1="99.10" x2="601.13" y2="100.90" stroke="#606060" stroke-width="0.8"/>
<line x1="615.45" y1="99.10" x2="615.45" y2="100.90" stroke="#606060" stroke-width="0.8"/>
<line x1="629.76" y1="99.10" x2="629.76" y2="100.90" stroke="#606060" stroke-width="0.8"/>
<line x1="644.08" y1="99.10" x2="644.08" y2="100.90" stroke="#606060" stroke-width="0.8"/>
<line x1="658.39" y1="99.10" x2="658.39" y2="100.90" stroke="#606060" stroke-width="0.8"/>
<line x1="672.71" y1="99.10" x2="672.71" y2="100.90" stroke="#606060" stroke-width="0.8"/>
<line x1="459.20" y1="109.06" x2="459.20" y2="213.70" stroke="#606060" stroke-width="0.8"/>
<line x1="457.40" y1="213.70" x2="459.20" y2="213.70" stroke="#606060" stroke-width="0.8"/>
<text x="456.00" y="216.10" font-size="6.8" fill="#231f20" stroke="#231f20" stroke-width="0.08" text-anchor="end" font-weight="normal" >0</text>
<line x1="457.40" y1="196.26" x2="459.20" y2="196.26" stroke="#606060" stroke-width="0.8"/>
<text x="456.00" y="198.66" font-size="6.8" fill="#231f20" stroke="#231f20" stroke-width="0.08" text-anchor="end" font-weight="normal" >2</text>
<line x1="457.40" y1="178.82" x2="459.20" y2="178.82" stroke="#606060" stroke-width="0.8"/>
<text x="456.00" y="181.22" font-size="6.8" fill="#231f20" stroke="#231f20" stroke-width="0.08" text-anchor="end" font-weight="normal" >4</text>
<line x1="457.40" y1="161.38" x2="459.20" y2="161.38" stroke="#606060" stroke-width="0.8"/>
<text x="456.00" y="163.78" font-size="6.8" fill="#231f20" stroke="#231f20" stroke-width="0.08" text-anchor="end" font-weight="normal" >6</text>
<line x1="457.40" y1="143.94" x2="459.20" y2="143.94" stroke="#606060" stroke-width="0.8"/>
<text x="456.00" y="146.34" font-size="6.8" fill="#231f20" stroke="#231f20" stroke-width="0.08" text-anchor="end" font-weight="normal" >8</text>
<line x1="457.40" y1="126.50" x2="459.20" y2="126.50" stroke="#606060" stroke-width="0.8"/>
<text x="456.00" y="128.90" font-size="6.8" fill="#231f20" stroke="#231f20" stroke-width="0.08" text-anchor="end" font-weight="normal" >10</text>
<line x1="457.40" y1="109.06" x2="459.20" y2="109.06" stroke="#606060" stroke-width="0.8"/>
<text x="456.00" y="111.46" font-size="6.8" fill="#231f20" stroke="#231f20" stroke-width="0.08" text-anchor="end" font-weight="normal" >12</text>
<line x1="459.20" y1="213.70" x2="559.40" y2="213.70" stroke="#606060" stroke-width="0.8"/>
<line x1="459.20" y1="213.70" x2="459.20" y2="215.50" stroke="#606060" stroke-width="0.8"/>
<text x="459.20" y="223.40" font-size="6.8" fill="#231f20" stroke="#231f20" stroke-width="0.08" text-anchor="middle" font-weight="normal" >0</text>
<line x1="473.51" y1="213.70" x2="473.51" y2="215.50" stroke="#606060" stroke-width="0.8"/>
<text x="473.51" y="223.40" font-size="6.8" fill="#231f20" stroke="#231f20" stroke-width="0.08" text-anchor="middle" font-weight="normal" >14</text>
<line x1="487.83" y1="213.70" x2="487.83" y2="215.50" stroke="#606060" stroke-width="0.8"/>
<text x="487.83" y="223.40" font-size="6.8" fill="#231f20" stroke="#231f20" stroke-width="0.08" text-anchor="middle" font-weight="normal" >28</text>
<line x1="502.14" y1="213.70" x2="502.14" y2="215.50" stroke="#606060" stroke-width="0.8"/>
<text x="502.14" y="223.40" font-size="6.8" fill="#231f20" stroke="#231f20" stroke-width="0.08" text-anchor="middle" font-weight="normal" >42</text>
<line x1="516.46" y1="213.70" x2="516.46" y2="215.50" stroke="#606060" stroke-width="0.8"/>
<text x="516.46" y="223.40" font-size="6.8" fill="#231f20" stroke="#231f20" stroke-width="0.08" text-anchor="middle" font-weight="normal" >56</text>
<line x1="530.77" y1="213.70" x2="530.77" y2="215.50" stroke="#606060" stroke-width="0.8"/>
<text x="530.77" y="223.40" font-size="6.8" fill="#231f20" stroke="#231f20" stroke-width="0.08" text-anchor="middle" font-weight="normal" >70</text>
<line x1="545.09" y1="213.70" x2="545.09" y2="215.50" stroke="#606060" stroke-width="0.8"/>
<text x="545.09" y="223.40" font-size="6.8" fill="#231f20" stroke="#231f20" stroke-width="0.08" text-anchor="middle" font-weight="normal" >84</text>
<line x1="559.40" y1="213.70" x2="559.40" y2="215.50" stroke="#606060" stroke-width="0.8"/>
<text x="559.40" y="223.40" font-size="6.8" fill="#231f20" stroke="#231f20" stroke-width="0.08" text-anchor="middle" font-weight="normal" >98</text>
<line x1="573.00" y1="109.06" x2="573.00" y2="213.70" stroke="#606060" stroke-width="0.8"/>
<line x1="571.20" y1="213.70" x2="573.00" y2="213.70" stroke="#606060" stroke-width="0.8"/>
<text x="569.80" y="216.10" font-size="6.8" fill="#231f20" stroke="#231f20" stroke-width="0.08" text-anchor="end" font-weight="normal" >0</text>
<line x1="571.20" y1="196.26" x2="573.00" y2="196.26" stroke="#606060" stroke-width="0.8"/>
<text x="569.80" y="198.66" font-size="6.8" fill="#231f20" stroke="#231f20" stroke-width="0.08" text-anchor="end" font-weight="normal" >2</text>
<line x1="571.20" y1="178.82" x2="573.00" y2="178.82" stroke="#606060" stroke-width="0.8"/>
<text x="569.80" y="181.22" font-size="6.8" fill="#231f20" stroke="#231f20" stroke-width="0.08" text-anchor="end" font-weight="normal" >4</text>
<line x1="571.20" y1="161.38" x2="573.00" y2="161.38" stroke="#606060" stroke-width="0.8"/>
<text x="569.80" y="163.78" font-size="6.8" fill="#231f20" stroke="#231f20" stroke-width="0.08" text-anchor="end" font-weight="normal" >6</text>
<line x1="571.20" y1="143.94" x2="573.00" y2="143.94" stroke="#606060" stroke-width="0.8"/>
<text x="569.80" y="146.34" font-size="6.8" fill="#231f20" stroke="#231f20" stroke-width="0.08" text-anchor="end" font-weight="normal" >8</text>
<line x1="571.20" y1="126.50" x2="573.00" y2="126.50" stroke="#606060" stroke-width="0.8"/>
<text x="569.80" y="128.90" font-size="6.8" fill="#231f20" stroke="#231f20" stroke-width="0.08" text-anchor="end" font-weight="normal" >10</text>
<line x1="571.20" y1="109.06" x2="573.00" y2="109.06" stroke="#606060" stroke-width="0.8"/>
<text x="569.80" y="111.46" font-size="6.8" fill="#231f20" stroke="#231f20" stroke-width="0.08" text-anchor="end" font-weight="normal" >12</text>
<line x1="573.00" y1="213.70" x2="673.21" y2="213.70" stroke="#606060" stroke-width="0.8"/>
<line x1="573.00" y1="213.70" x2="573.00" y2="215.50" stroke="#606060" stroke-width="0.8"/>
<text x="573.00" y="223.40" font-size="6.8" fill="#231f20" stroke="#231f20" stroke-width="0.08" text-anchor="middle" font-weight="normal" >0</text>
<line x1="587.32" y1="213.70" x2="587.32" y2="215.50" stroke="#606060" stroke-width="0.8"/>
<text x="587.32" y="223.40" font-size="6.8" fill="#231f20" stroke="#231f20" stroke-width="0.08" text-anchor="middle" font-weight="normal" >14</text>
<line x1="601.63" y1="213.70" x2="601.63" y2="215.50" stroke="#606060" stroke-width="0.8"/>
<text x="601.63" y="223.40" font-size="6.8" fill="#231f20" stroke="#231f20" stroke-width="0.08" text-anchor="middle" font-weight="normal" >28</text>
<line x1="615.95" y1="213.70" x2="615.95" y2="215.50" stroke="#606060" stroke-width="0.8"/>
<text x="615.95" y="223.40" font-size="6.8" fill="#231f20" stroke="#231f20" stroke-width="0.08" text-anchor="middle" font-weight="normal" >42</text>
<line x1="630.26" y1="213.70" x2="630.26" y2="215.50" stroke="#606060" stroke-width="0.8"/>
<text x="630.26" y="223.40" font-size="6.8" fill="#231f20" stroke="#231f20" stroke-width="0.08" text-anchor="middle" font-weight="normal" >56</text>
<line x1="644.58" y1="213.70" x2="644.58" y2="215.50" stroke="#606060" stroke-width="0.8"/>
<text x="644.58" y="223.40" font-size="6.8" fill="#231f20" stroke="#231f20" stroke-width="0.08" text-anchor="middle" font-weight="normal" >70</text>
<line x1="658.89" y1="213.70" x2="658.89" y2="215.50" stroke="#606060" stroke-width="0.8"/>
<text x="658.89" y="223.40" font-size="6.8" fill="#231f20" stroke="#231f20" stroke-width="0.08" text-anchor="middle" font-weight="normal" >84</text>
<line x1="673.21" y1="213.70" x2="673.21" y2="215.50" stroke="#606060" stroke-width="0.8"/>
<text x="673.21" y="223.40" font-size="6.8" fill="#231f20" stroke="#231f20" stroke-width="0.08" text-anchor="middle" font-weight="normal" >98</text>
<text x="513.50" y="235.30" font-size="9.4" fill="#231f20" stroke="#231f20" stroke-width="0.22" text-anchor="start" font-weight="normal" >Time after infection (days)</text>
<g stroke="#2c3d8f" stroke-opacity="0.75" stroke-width="0.65"><line x1="473.12" y1="73.44" x2="473.12" y2="70.34"/><line x1="470.92" y1="70.34" x2="475.31" y2="70.34"/></g>
<g stroke="#2c3d8f" stroke-opacity="0.75" stroke-width="0.65"><line x1="501.75" y1="76.09" x2="501.75" y2="73.43"/><line x1="499.55" y1="73.43" x2="503.94" y2="73.43"/></g>
<g stroke="#2c3d8f" stroke-opacity="0.75" stroke-width="0.65"><line x1="508.90" y1="77.86" x2="508.90" y2="75.20"/><line x1="506.70" y1="75.20" x2="511.10" y2="75.20"/></g>
<g stroke="#2c3d8f" stroke-opacity="0.75" stroke-width="0.65"><line x1="516.06" y1="76.97" x2="516.06" y2="74.32"/><line x1="513.86" y1="74.32" x2="518.26" y2="74.32"/></g>
<g stroke="#2c3d8f" stroke-opacity="0.75" stroke-width="0.65"><line x1="523.22" y1="76.97" x2="523.22" y2="74.32"/><line x1="521.02" y1="74.32" x2="525.42" y2="74.32"/></g>
<polyline points="458.80,89.36 465.96,88.04 473.12,73.44 480.27,79.63 487.43,82.28 494.59,80.51 501.75,76.09 508.90,77.86 516.06,76.97 523.22,76.97 530.38,82.02 537.53,80.51 544.69,83.52 551.85,82.55 559.00,85.12" fill="none" stroke="#2c3d8f" stroke-width="0.9" stroke-opacity="1" stroke-linejoin="round"/>
<rect x="457.35" y="87.91" width="2.9" height="2.9" fill="#2c3d8f"/>
<rect x="464.51" y="86.59" width="2.9" height="2.9" fill="#2c3d8f"/>
<rect x="471.67" y="71.98" width="2.9" height="2.9" fill="#2c3d8f"/>
<rect x="478.82" y="78.18" width="2.9" height="2.9" fill="#2c3d8f"/>
<rect x="485.98" y="80.83" width="2.9" height="2.9" fill="#2c3d8f"/>
<rect x="493.14" y="79.06" width="2.9" height="2.9" fill="#2c3d8f"/>
<rect x="500.30" y="74.64" width="2.9" height="2.9" fill="#2c3d8f"/>
<rect x="507.45" y="76.41" width="2.9" height="2.9" fill="#2c3d8f"/>
<rect x="514.61" y="75.52" width="2.9" height="2.9" fill="#2c3d8f"/>
<rect x="521.77" y="75.52" width="2.9" height="2.9" fill="#2c3d8f"/>
<rect x="528.92" y="80.57" width="2.9" height="2.9" fill="#2c3d8f"/>
<rect x="536.08" y="79.06" width="2.9" height="2.9" fill="#2c3d8f"/>
<rect x="543.24" y="82.07" width="2.9" height="2.9" fill="#2c3d8f"/>
<rect x="550.40" y="81.10" width="2.9" height="2.9" fill="#2c3d8f"/>
<rect x="557.55" y="83.67" width="2.9" height="2.9" fill="#2c3d8f"/>
<polyline points="458.80,90.25 465.96,89.81 473.12,90.25 480.27,89.36 487.43,90.25 494.59,89.36 501.75,90.69 508.90,89.81 516.06,89.81 523.22,89.81 530.38,89.81 537.53,89.81 544.69,90.25 551.85,88.92 559.00,88.48" fill="none" stroke="#2fa6da" stroke-width="0.9" stroke-opacity="1" stroke-linejoin="round"/>
<rect x="457.35" y="88.80" width="2.9" height="2.9" fill="#2fa6da"/>
<rect x="464.51" y="88.36" width="2.9" height="2.9" fill="#2fa6da"/>
<rect x="471.67" y="88.80" width="2.9" height="2.9" fill="#2fa6da"/>
<rect x="478.82" y="87.91" width="2.9" height="2.9" fill="#2fa6da"/>
<rect x="485.98" y="88.80" width="2.9" height="2.9" fill="#2fa6da"/>
<rect x="493.14" y="87.91" width="2.9" height="2.9" fill="#2fa6da"/>
<rect x="500.30" y="89.24" width="2.9" height="2.9" fill="#2fa6da"/>
<rect x="507.45" y="88.36" width="2.9" height="2.9" fill="#2fa6da"/>
<rect x="514.61" y="88.36" width="2.9" height="2.9" fill="#2fa6da"/>
<rect x="521.77" y="88.36" width="2.9" height="2.9" fill="#2fa6da"/>
<rect x="528.92" y="88.36" width="2.9" height="2.9" fill="#2fa6da"/>
<rect x="536.08" y="88.36" width="2.9" height="2.9" fill="#2fa6da"/>
<rect x="543.24" y="88.80" width="2.9" height="2.9" fill="#2fa6da"/>
<rect x="550.40" y="87.47" width="2.9" height="2.9" fill="#2fa6da"/>
<rect x="557.55" y="87.03" width="2.9" height="2.9" fill="#2fa6da"/>
<text x="463.90" y="66.30" font-size="6.64" fill="#2c3d8f" stroke="#2c3d8f" stroke-width="0.08" text-anchor="start" font-weight="normal" ><tspan font-style="italic">P</tspan> = 0.017</text>
<polyline points="572.50,90.25 579.66,88.48 586.82,80.51 593.97,87.59 601.13,87.59 608.29,87.15 615.45,87.59 622.60,87.59 629.76,87.59 636.92,87.15 644.08,87.15 651.23,86.71 658.39,86.71 665.55,87.59 672.71,87.59" fill="none" stroke="#2c3d8f" stroke-width="0.9" stroke-opacity="1" stroke-linejoin="round"/>
<rect x="571.05" y="88.80" width="2.9" height="2.9" fill="#2c3d8f"/>
<rect x="578.21" y="87.03" width="2.9" height="2.9" fill="#2c3d8f"/>
<rect x="585.37" y="79.06" width="2.9" height="2.9" fill="#2c3d8f"/>
<rect x="592.52" y="86.14" width="2.9" height="2.9" fill="#2c3d8f"/>
<rect x="599.68" y="86.14" width="2.9" height="2.9" fill="#2c3d8f"/>
<rect x="606.84" y="85.70" width="2.9" height="2.9" fill="#2c3d8f"/>
<rect x="614.00" y="86.14" width="2.9" height="2.9" fill="#2c3d8f"/>
<rect x="621.15" y="86.14" width="2.9" height="2.9" fill="#2c3d8f"/>
<rect x="628.31" y="86.14" width="2.9" height="2.9" fill="#2c3d8f"/>
<rect x="635.47" y="85.70" width="2.9" height="2.9" fill="#2c3d8f"/>
<rect x="642.62" y="85.70" width="2.9" height="2.9" fill="#2c3d8f"/>
<rect x="649.78" y="85.26" width="2.9" height="2.9" fill="#2c3d8f"/>
<rect x="656.94" y="85.26" width="2.9" height="2.9" fill="#2c3d8f"/>
<rect x="664.10" y="86.14" width="2.9" height="2.9" fill="#2c3d8f"/>
<rect x="671.25" y="86.14" width="2.9" height="2.9" fill="#2c3d8f"/>
<polyline points="572.50,90.25 579.66,90.25 586.82,90.69 593.97,89.36 601.13,89.36 608.29,89.36 615.45,89.81 622.60,90.25 629.76,89.81 636.92,90.25 644.08,89.36 651.23,90.25 658.39,90.69 665.55,91.13 672.71,90.25" fill="none" stroke="#2fa6da" stroke-width="0.9" stroke-opacity="1" stroke-linejoin="round"/>
<rect x="571.05" y="88.80" width="2.9" height="2.9" fill="#2fa6da"/>
<rect x="578.21" y="88.80" width="2.9" height="2.9" fill="#2fa6da"/>
<rect x="585.37" y="89.24" width="2.9" height="2.9" fill="#2fa6da"/>
<rect x="592.52" y="87.91" width="2.9" height="2.9" fill="#2fa6da"/>
<rect x="599.68" y="87.91" width="2.9" height="2.9" fill="#2fa6da"/>
<rect x="606.84" y="87.91" width="2.9" height="2.9" fill="#2fa6da"/>
<rect x="614.00" y="88.36" width="2.9" height="2.9" fill="#2fa6da"/>
<rect x="621.15" y="88.80" width="2.9" height="2.9" fill="#2fa6da"/>
<rect x="628.31" y="88.36" width="2.9" height="2.9" fill="#2fa6da"/>
<rect x="635.47" y="88.80" width="2.9" height="2.9" fill="#2fa6da"/>
<rect x="642.62" y="87.91" width="2.9" height="2.9" fill="#2fa6da"/>
<rect x="649.78" y="88.80" width="2.9" height="2.9" fill="#2fa6da"/>
<rect x="656.94" y="89.24" width="2.9" height="2.9" fill="#2fa6da"/>
<rect x="664.10" y="89.68" width="2.9" height="2.9" fill="#2fa6da"/>
<rect x="671.25" y="88.80" width="2.9" height="2.9" fill="#2fa6da"/>
<text x="577.80" y="75.70" font-size="6.64" fill="#2c3d8f" stroke="#2c3d8f" stroke-width="0.08" text-anchor="start" font-weight="normal" ><tspan font-style="italic">P</tspan> = 0.017</text>
<g stroke="#d9252f" stroke-opacity="0.75" stroke-width="0.65"><line x1="537.93" y1="178.04" x2="537.93" y2="174.55"/><line x1="535.73" y1="174.55" x2="540.13" y2="174.55"/></g>
<g stroke="#d9252f" stroke-opacity="0.75" stroke-width="0.65"><line x1="552.25" y1="177.42" x2="552.25" y2="173.94"/><line x1="550.05" y1="173.94" x2="554.45" y2="173.94"/></g>
<g stroke="#d9252f" stroke-opacity="0.75" stroke-width="0.65"><line x1="559.40" y1="178.04" x2="559.40" y2="174.55"/><line x1="557.20" y1="174.55" x2="561.61" y2="174.55"/></g>
<polyline points="459.20,203.41 466.36,202.36 473.51,167.05 480.67,164.69 487.83,167.05 494.99,173.06 502.14,172.72 509.30,176.55 516.46,174.81 523.62,176.03 530.77,174.11 537.93,178.04 545.09,178.82 552.25,177.42 559.40,178.04" fill="none" stroke="#d9252f" stroke-width="0.9" stroke-opacity="1" stroke-linejoin="round"/>
<rect x="457.75" y="201.96" width="2.9" height="2.9" fill="#d9252f"/>
<rect x="464.91" y="200.91" width="2.9" height="2.9" fill="#d9252f"/>
<rect x="472.06" y="165.60" width="2.9" height="2.9" fill="#d9252f"/>
<rect x="479.22" y="163.24" width="2.9" height="2.9" fill="#d9252f"/>
<rect x="486.38" y="165.60" width="2.9" height="2.9" fill="#d9252f"/>
<rect x="493.54" y="171.61" width="2.9" height="2.9" fill="#d9252f"/>
<rect x="500.69" y="171.27" width="2.9" height="2.9" fill="#d9252f"/>
<rect x="507.85" y="175.10" width="2.9" height="2.9" fill="#d9252f"/>
<rect x="515.01" y="173.36" width="2.9" height="2.9" fill="#d9252f"/>
<rect x="522.17" y="174.58" width="2.9" height="2.9" fill="#d9252f"/>
<rect x="529.32" y="172.66" width="2.9" height="2.9" fill="#d9252f"/>
<rect x="536.48" y="176.59" width="2.9" height="2.9" fill="#d9252f"/>
<rect x="543.64" y="177.37" width="2.9" height="2.9" fill="#d9252f"/>
<rect x="550.80" y="175.97" width="2.9" height="2.9" fill="#d9252f"/>
<rect x="557.95" y="176.59" width="2.9" height="2.9" fill="#d9252f"/>
<g stroke="#2c3d8f" stroke-opacity="0.75" stroke-width="0.65"><line x1="473.51" y1="155.28" x2="473.51" y2="142.20"/><line x1="471.31" y1="142.20" x2="475.71" y2="142.20"/></g>
<g stroke="#2c3d8f" stroke-opacity="0.75" stroke-width="0.65"><line x1="480.67" y1="161.55" x2="480.67" y2="156.32"/><line x1="478.47" y1="156.32" x2="482.87" y2="156.32"/></g>
<g stroke="#2c3d8f" stroke-opacity="0.75" stroke-width="0.65"><line x1="494.99" y1="167.83" x2="494.99" y2="163.47"/><line x1="492.79" y1="163.47" x2="497.19" y2="163.47"/></g>
<g stroke="#2c3d8f" stroke-opacity="0.75" stroke-width="0.65"><line x1="502.14" y1="174.72" x2="502.14" y2="172.11"/><line x1="499.94" y1="172.11" x2="504.34" y2="172.11"/></g>
<g stroke="#2c3d8f" stroke-opacity="0.75" stroke-width="0.65"><line x1="509.30" y1="173.33" x2="509.30" y2="169.84"/><line x1="507.10" y1="169.84" x2="511.50" y2="169.84"/></g>
<g stroke="#2c3d8f" stroke-opacity="0.75" stroke-width="0.65"><line x1="516.46" y1="172.45" x2="516.46" y2="169.84"/><line x1="514.26" y1="169.84" x2="518.66" y2="169.84"/></g>
<g stroke="#2c3d8f" stroke-opacity="0.75" stroke-width="0.65"><line x1="523.62" y1="171.41" x2="523.62" y2="167.05"/><line x1="521.42" y1="167.05" x2="525.82" y2="167.05"/></g>
<g stroke="#2c3d8f" stroke-opacity="0.75" stroke-width="0.65"><line x1="530.77" y1="169.58" x2="530.77" y2="165.22"/><line x1="528.57" y1="165.22" x2="532.98" y2="165.22"/></g>
<g stroke="#2c3d8f" stroke-opacity="0.75" stroke-width="0.65"><line x1="537.93" y1="173.50" x2="537.93" y2="170.01"/><line x1="535.73" y1="170.01" x2="540.13" y2="170.01"/></g>
<g stroke="#2c3d8f" stroke-opacity="0.75" stroke-width="0.65"><line x1="545.09" y1="172.89" x2="545.09" y2="170.27"/><line x1="542.89" y1="170.27" x2="547.29" y2="170.27"/></g>
<g stroke="#2c3d8f" stroke-opacity="0.75" stroke-width="0.65"><line x1="552.25" y1="178.04" x2="552.25" y2="173.68"/><line x1="550.05" y1="173.68" x2="554.45" y2="173.68"/></g>
<g stroke="#2c3d8f" stroke-opacity="0.75" stroke-width="0.65"><line x1="559.40" y1="178.04" x2="559.40" y2="173.68"/><line x1="557.20" y1="173.68" x2="561.61" y2="173.68"/></g>
<polyline points="459.20,203.41 466.36,201.84 473.51,155.28 480.67,161.55 487.83,167.83 494.99,167.83 502.14,174.72 509.30,173.33 516.46,172.45 523.62,171.41 530.77,169.58 537.93,173.50 545.09,172.89 552.25,178.04 559.40,178.04" fill="none" stroke="#2c3d8f" stroke-width="0.9" stroke-opacity="1" stroke-linejoin="round"/>
<rect x="457.75" y="201.96" width="2.9" height="2.9" fill="#2c3d8f"/>
<rect x="464.91" y="200.39" width="2.9" height="2.9" fill="#2c3d8f"/>
<rect x="472.06" y="153.83" width="2.9" height="2.9" fill="#2c3d8f"/>
<rect x="479.22" y="160.10" width="2.9" height="2.9" fill="#2c3d8f"/>
<rect x="486.38" y="166.38" width="2.9" height="2.9" fill="#2c3d8f"/>
<rect x="493.54" y="166.38" width="2.9" height="2.9" fill="#2c3d8f"/>
<rect x="500.69" y="173.27" width="2.9" height="2.9" fill="#2c3d8f"/>
<rect x="507.85" y="171.88" width="2.9" height="2.9" fill="#2c3d8f"/>
<rect x="515.01" y="171.00" width="2.9" height="2.9" fill="#2c3d8f"/>
<rect x="522.17" y="169.96" width="2.9" height="2.9" fill="#2c3d8f"/>
<rect x="529.32" y="168.13" width="2.9" height="2.9" fill="#2c3d8f"/>
<rect x="536.48" y="172.05" width="2.9" height="2.9" fill="#2c3d8f"/>
<rect x="543.64" y="171.44" width="2.9" height="2.9" fill="#2c3d8f"/>
<rect x="550.80" y="176.59" width="2.9" height="2.9" fill="#2c3d8f"/>
<rect x="557.95" y="176.59" width="2.9" height="2.9" fill="#2c3d8f"/>
<g stroke="#2fa6da" stroke-opacity="0.75" stroke-width="0.65"><line x1="523.62" y1="189.81" x2="523.62" y2="187.19"/><line x1="521.42" y1="187.19" x2="525.82" y2="187.19"/></g>
<g stroke="#2fa6da" stroke-opacity="0.75" stroke-width="0.65"><line x1="537.93" y1="188.76" x2="537.93" y2="185.27"/><line x1="535.73" y1="185.27" x2="540.13" y2="185.27"/></g>
<g stroke="#2fa6da" stroke-opacity="0.75" stroke-width="0.65"><line x1="559.40" y1="188.32" x2="559.40" y2="183.96"/><line x1="557.20" y1="183.96" x2="561.61" y2="183.96"/></g>
<polyline points="459.20,204.11 466.36,204.11 473.51,202.54 480.67,201.32 487.83,201.06 494.99,200.45 502.14,198.88 509.30,194.17 516.46,194.17 523.62,189.81 530.77,188.32 537.93,188.76 545.09,183.35 552.25,183.96 559.40,188.32" fill="none" stroke="#2fa6da" stroke-width="0.9" stroke-opacity="1" stroke-linejoin="round"/>
<rect x="457.75" y="202.66" width="2.9" height="2.9" fill="#2fa6da"/>
<rect x="464.91" y="202.66" width="2.9" height="2.9" fill="#2fa6da"/>
<rect x="472.06" y="201.09" width="2.9" height="2.9" fill="#2fa6da"/>
<rect x="479.22" y="199.87" width="2.9" height="2.9" fill="#2fa6da"/>
<rect x="486.38" y="199.61" width="2.9" height="2.9" fill="#2fa6da"/>
<rect x="493.54" y="199.00" width="2.9" height="2.9" fill="#2fa6da"/>
<rect x="500.69" y="197.43" width="2.9" height="2.9" fill="#2fa6da"/>
<rect x="507.85" y="192.72" width="2.9" height="2.9" fill="#2fa6da"/>
<rect x="515.01" y="192.72" width="2.9" height="2.9" fill="#2fa6da"/>
<rect x="522.17" y="188.36" width="2.9" height="2.9" fill="#2fa6da"/>
<rect x="529.32" y="186.87" width="2.9" height="2.9" fill="#2fa6da"/>
<rect x="536.48" y="187.31" width="2.9" height="2.9" fill="#2fa6da"/>
<rect x="543.64" y="181.90" width="2.9" height="2.9" fill="#2fa6da"/>
<rect x="550.80" y="182.51" width="2.9" height="2.9" fill="#2fa6da"/>
<rect x="557.95" y="186.87" width="2.9" height="2.9" fill="#2fa6da"/>
<text x="465.70" y="140.20" font-size="6.64" fill="#2c3d8f" stroke="#2c3d8f" stroke-width="0.08" text-anchor="start" font-weight="normal" ><tspan font-style="italic">P</tspan> = NS</text>
<text x="465.80" y="213.00" font-size="6.64" fill="#2fa6da" stroke="#2fa6da" stroke-width="0.08" text-anchor="start" font-weight="normal" ><tspan font-style="italic">P</tspan> = 0.008</text>
<g stroke="#2c3d8f" stroke-opacity="0.75" stroke-width="0.65"><line x1="608.79" y1="167.75" x2="608.79" y2="159.90"/><line x1="606.59" y1="159.90" x2="610.99" y2="159.90"/></g>
<g stroke="#2c3d8f" stroke-opacity="0.75" stroke-width="0.65"><line x1="615.95" y1="170.97" x2="615.95" y2="166.61"/><line x1="613.75" y1="166.61" x2="618.15" y2="166.61"/></g>
<g stroke="#2c3d8f" stroke-opacity="0.75" stroke-width="0.65"><line x1="623.10" y1="170.97" x2="623.10" y2="166.61"/><line x1="620.90" y1="166.61" x2="625.30" y2="166.61"/></g>
<g stroke="#2c3d8f" stroke-opacity="0.75" stroke-width="0.65"><line x1="637.42" y1="174.81" x2="637.42" y2="170.45"/><line x1="635.22" y1="170.45" x2="639.62" y2="170.45"/></g>
<g stroke="#2c3d8f" stroke-opacity="0.75" stroke-width="0.65"><line x1="644.58" y1="180.48" x2="644.58" y2="172.63"/><line x1="642.38" y1="172.63" x2="646.78" y2="172.63"/></g>
<g stroke="#2c3d8f" stroke-opacity="0.75" stroke-width="0.65"><line x1="651.73" y1="182.05" x2="651.73" y2="174.20"/><line x1="649.53" y1="174.20" x2="653.93" y2="174.20"/></g>
<g stroke="#2c3d8f" stroke-opacity="0.75" stroke-width="0.65"><line x1="658.89" y1="181.44" x2="658.89" y2="173.59"/><line x1="656.69" y1="173.59" x2="661.09" y2="173.59"/></g>
<g stroke="#2c3d8f" stroke-opacity="0.75" stroke-width="0.65"><line x1="666.05" y1="177.95" x2="666.05" y2="170.10"/><line x1="663.85" y1="170.10" x2="668.25" y2="170.10"/></g>
<g stroke="#2c3d8f" stroke-opacity="0.75" stroke-width="0.65"><line x1="673.21" y1="177.95" x2="673.21" y2="170.10"/><line x1="671.00" y1="170.10" x2="675.41" y2="170.10"/></g>
<polyline points="573.00,204.11 580.16,199.75 587.32,150.04 594.47,156.76 601.63,166.26 608.79,167.75 615.95,170.97 623.10,170.97 630.26,174.20 637.42,174.81 644.58,180.48 651.73,182.05 658.89,181.44 666.05,177.95 673.21,177.95" fill="none" stroke="#2c3d8f" stroke-width="0.9" stroke-opacity="1" stroke-linejoin="round"/>
<rect x="571.55" y="202.66" width="2.9" height="2.9" fill="#2c3d8f"/>
<rect x="578.71" y="198.30" width="2.9" height="2.9" fill="#2c3d8f"/>
<rect x="585.87" y="148.59" width="2.9" height="2.9" fill="#2c3d8f"/>
<rect x="593.02" y="155.31" width="2.9" height="2.9" fill="#2c3d8f"/>
<rect x="600.18" y="164.81" width="2.9" height="2.9" fill="#2c3d8f"/>
<rect x="607.34" y="166.30" width="2.9" height="2.9" fill="#2c3d8f"/>
<rect x="614.50" y="169.52" width="2.9" height="2.9" fill="#2c3d8f"/>
<rect x="621.65" y="169.52" width="2.9" height="2.9" fill="#2c3d8f"/>
<rect x="628.81" y="172.75" width="2.9" height="2.9" fill="#2c3d8f"/>
<rect x="635.97" y="173.36" width="2.9" height="2.9" fill="#2c3d8f"/>
<rect x="643.12" y="179.03" width="2.9" height="2.9" fill="#2c3d8f"/>
<rect x="650.28" y="180.60" width="2.9" height="2.9" fill="#2c3d8f"/>
<rect x="657.44" y="179.99" width="2.9" height="2.9" fill="#2c3d8f"/>
<rect x="664.60" y="176.50" width="2.9" height="2.9" fill="#2c3d8f"/>
<rect x="671.75" y="176.50" width="2.9" height="2.9" fill="#2c3d8f"/>
<g stroke="#d9252f" stroke-opacity="0.75" stroke-width="0.65"><line x1="587.32" y1="153.88" x2="587.32" y2="137.31"/><line x1="585.12" y1="137.31" x2="589.52" y2="137.31"/></g>
<g stroke="#d9252f" stroke-opacity="0.75" stroke-width="0.65"><line x1="594.47" y1="158.76" x2="594.47" y2="145.68"/><line x1="592.27" y1="145.68" x2="596.67" y2="145.68"/></g>
<g stroke="#d9252f" stroke-opacity="0.75" stroke-width="0.65"><line x1="601.63" y1="162.51" x2="601.63" y2="153.79"/><line x1="599.43" y1="153.79" x2="603.83" y2="153.79"/></g>
<g stroke="#d9252f" stroke-opacity="0.75" stroke-width="0.65"><line x1="608.79" y1="158.42" x2="608.79" y2="149.26"/><line x1="606.59" y1="149.26" x2="610.99" y2="149.26"/></g>
<g stroke="#d9252f" stroke-opacity="0.75" stroke-width="0.65"><line x1="615.95" y1="164.69" x2="615.95" y2="153.79"/><line x1="613.75" y1="153.79" x2="618.15" y2="153.79"/></g>
<g stroke="#d9252f" stroke-opacity="0.75" stroke-width="0.65"><line x1="623.10" y1="157.54" x2="623.10" y2="144.46"/><line x1="620.90" y1="144.46" x2="625.30" y2="144.46"/></g>
<g stroke="#d9252f" stroke-opacity="0.75" stroke-width="0.65"><line x1="630.26" y1="164.69" x2="630.26" y2="154.23"/><line x1="628.06" y1="154.23" x2="632.46" y2="154.23"/></g>
<g stroke="#d9252f" stroke-opacity="0.75" stroke-width="0.65"><line x1="637.42" y1="163.82" x2="637.42" y2="155.10"/><line x1="635.22" y1="155.10" x2="639.62" y2="155.10"/></g>
<g stroke="#d9252f" stroke-opacity="0.75" stroke-width="0.65"><line x1="644.58" y1="164.69" x2="644.58" y2="155.97"/><line x1="642.38" y1="155.97" x2="646.78" y2="155.97"/></g>
<g stroke="#d9252f" stroke-opacity="0.75" stroke-width="0.65"><line x1="651.73" y1="164.69" x2="651.73" y2="155.97"/><line x1="649.53" y1="155.97" x2="653.93" y2="155.97"/></g>
<g stroke="#d9252f" stroke-opacity="0.75" stroke-width="0.65"><line x1="658.89" y1="163.12" x2="658.89" y2="150.48"/><line x1="656.69" y1="150.48" x2="661.09" y2="150.48"/></g>
<g stroke="#d9252f" stroke-opacity="0.75" stroke-width="0.65"><line x1="666.05" y1="165.74" x2="666.05" y2="156.15"/><line x1="663.85" y1="156.15" x2="668.25" y2="156.15"/></g>
<g stroke="#d9252f" stroke-opacity="0.75" stroke-width="0.65"><line x1="673.21" y1="166.61" x2="673.21" y2="155.28"/><line x1="671.00" y1="155.28" x2="675.41" y2="155.28"/></g>
<polyline points="573.00,204.11 580.16,202.36 587.32,153.88 594.47,158.76 601.63,162.51 608.79,158.42 615.95,164.69 623.10,157.54 630.26,164.69 637.42,163.82 644.58,164.69 651.73,164.69 658.89,163.12 666.05,165.74 673.21,166.61" fill="none" stroke="#d9252f" stroke-width="0.9" stroke-opacity="1" stroke-linejoin="round"/>
<rect x="571.55" y="202.66" width="2.9" height="2.9" fill="#d9252f"/>
<rect x="578.71" y="200.91" width="2.9" height="2.9" fill="#d9252f"/>
<rect x="585.87" y="152.43" width="2.9" height="2.9" fill="#d9252f"/>
<rect x="593.02" y="157.31" width="2.9" height="2.9" fill="#d9252f"/>
<rect x="600.18" y="161.06" width="2.9" height="2.9" fill="#d9252f"/>
<rect x="607.34" y="156.97" width="2.9" height="2.9" fill="#d9252f"/>
<rect x="614.50" y="163.24" width="2.9" height="2.9" fill="#d9252f"/>
<rect x="621.65" y="156.09" width="2.9" height="2.9" fill="#d9252f"/>
<rect x="628.81" y="163.24" width="2.9" height="2.9" fill="#d9252f"/>
<rect x="635.97" y="162.37" width="2.9" height="2.9" fill="#d9252f"/>
<rect x="643.12" y="163.24" width="2.9" height="2.9" fill="#d9252f"/>
<rect x="650.28" y="163.24" width="2.9" height="2.9" fill="#d9252f"/>
<rect x="657.44" y="161.67" width="2.9" height="2.9" fill="#d9252f"/>
<rect x="664.60" y="164.29" width="2.9" height="2.9" fill="#d9252f"/>
<rect x="671.75" y="165.16" width="2.9" height="2.9" fill="#d9252f"/>
<polyline points="573.00,204.11 580.16,205.42 587.32,204.11 594.47,204.11 601.63,203.24 608.79,204.11 615.95,204.54 623.10,204.98 630.26,203.67 637.42,204.11 644.58,204.54 651.73,204.11 658.89,204.98 666.05,204.98 673.21,204.98" fill="none" stroke="#2fa6da" stroke-width="0.9" stroke-opacity="1" stroke-linejoin="round"/>
<rect x="571.55" y="202.66" width="2.9" height="2.9" fill="#2fa6da"/>
<rect x="578.71" y="203.97" width="2.9" height="2.9" fill="#2fa6da"/>
<rect x="585.87" y="202.66" width="2.9" height="2.9" fill="#2fa6da"/>
<rect x="593.02" y="202.66" width="2.9" height="2.9" fill="#2fa6da"/>
<rect x="600.18" y="201.79" width="2.9" height="2.9" fill="#2fa6da"/>
<rect x="607.34" y="202.66" width="2.9" height="2.9" fill="#2fa6da"/>
<rect x="614.50" y="203.09" width="2.9" height="2.9" fill="#2fa6da"/>
<rect x="621.65" y="203.53" width="2.9" height="2.9" fill="#2fa6da"/>
<rect x="628.81" y="202.22" width="2.9" height="2.9" fill="#2fa6da"/>
<rect x="635.97" y="202.66" width="2.9" height="2.9" fill="#2fa6da"/>
<rect x="643.12" y="203.09" width="2.9" height="2.9" fill="#2fa6da"/>
<rect x="650.28" y="202.66" width="2.9" height="2.9" fill="#2fa6da"/>
<rect x="657.44" y="203.53" width="2.9" height="2.9" fill="#2fa6da"/>
<rect x="664.60" y="203.53" width="2.9" height="2.9" fill="#2fa6da"/>
<rect x="671.75" y="203.53" width="2.9" height="2.9" fill="#2fa6da"/>
<text x="579.80" y="134.30" font-size="6.64" fill="#2c3d8f" stroke="#2c3d8f" stroke-width="0.08" text-anchor="start" font-weight="normal" ><tspan font-style="italic">P</tspan> = NS</text>
<text x="580.20" y="213.00" font-size="6.64" fill="#2fa6da" stroke="#2fa6da" stroke-width="0.08" text-anchor="start" font-weight="normal" ><tspan font-style="italic">P</tspan> = 0.008</text>
<line x1="609.50" y1="116.00" x2="617.50" y2="116.00" stroke="#2fa6da" stroke-width="0.9"/>
<rect x="612.20" y="114.70" width="2.6" height="2.6" fill="#2fa6da"/>
<text x="619.40" y="118.30" font-size="6.6" fill="#231f20" stroke="#231f20" stroke-width="0.08" text-anchor="start" font-weight="normal" >Grp A (CMV/CMV)</text>
<line x1="609.50" y1="123.40" x2="617.50" y2="123.40" stroke="#2c3d8f" stroke-width="0.9"/>
<rect x="612.20" y="122.10" width="2.6" height="2.6" fill="#2c3d8f"/>
<text x="619.40" y="125.70" font-size="6.6" fill="#231f20" stroke="#231f20" stroke-width="0.08" text-anchor="start" font-weight="normal" >Grp B (CMV/Ad5)</text>
<line x1="609.50" y1="130.80" x2="617.50" y2="130.80" stroke="#d9252f" stroke-width="0.9"/>
<rect x="612.20" y="129.50" width="2.6" height="2.6" fill="#d9252f"/>
<text x="619.40" y="133.10" font-size="6.6" fill="#231f20" stroke="#231f20" stroke-width="0.08" text-anchor="start" font-weight="normal" >Grp C (DNA/Ad5)</text>
</svg></body></html>
